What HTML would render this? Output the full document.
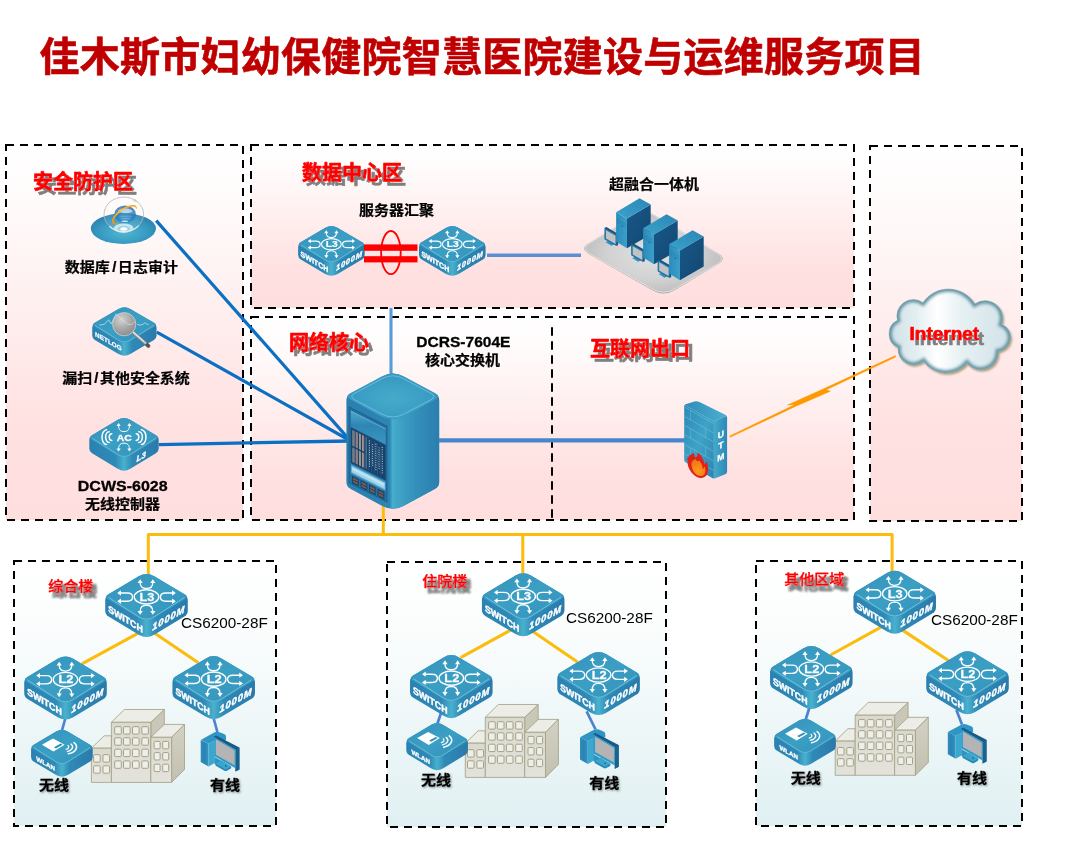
<!DOCTYPE html>
<html lang="zh-CN">
<head>
<meta charset="utf-8">
<title>佳木斯市妇幼保健院智慧医院建设与运维服务项目</title>
<style>
html,body{margin:0;padding:0;background:#fff;}
body{width:1078px;height:868px;overflow:hidden;font-family:"Liberation Sans", "Noto Sans CJK SC", sans-serif;}
svg{display:block;}
</style>
</head>
<body>
<svg width="1078" height="868" viewBox="0 0 1078 868">
<defs>
<linearGradient id="gPink" x1="0" y1="0" x2="0" y2="1">
  <stop offset="0" stop-color="#ffffff"/>
  <stop offset="0.15" stop-color="#fffbfb"/>
  <stop offset="0.5" stop-color="#ffecec"/>
  <stop offset="0.75" stop-color="#ffe1e1"/>
  <stop offset="1" stop-color="#ffdede"/>
</linearGradient>
<linearGradient id="gCyan" x1="0" y1="0" x2="0" y2="1">
  <stop offset="0" stop-color="#ffffff"/>
  <stop offset="0.25" stop-color="#fbfdfd"/>
  <stop offset="1" stop-color="#e0f0f2"/>
</linearGradient>
<filter id="ts" x="-10%" y="-30%" width="130%" height="180%">
  <feMorphology in="SourceAlpha" operator="dilate" radius="0.35"/>
  <feGaussianBlur stdDeviation="0.6"/>
  <feOffset dx="4.3" dy="4.4" result="o"/>
  <feFlood flood-color="#7f7f7f"/>
  <feComposite in2="o" operator="in"/>
  <feMerge><feMergeNode/><feMergeNode in="SourceGraphic"/></feMerge>
</filter>
<filter id="ts15" x="-10%" y="-30%" width="130%" height="180%">
  <feMorphology in="SourceAlpha" operator="dilate" radius="0.45 0.4"/>
  <feGaussianBlur stdDeviation="0.85 0.95"/>
  <feOffset dx="4.1" dy="6.0" result="o"/>
  <feFlood flood-color="#808080"/>
  <feComposite in2="o" operator="in" result="s"/>
  <feMerge><feMergeNode in="s"/><feMergeNode in="s"/><feMergeNode in="SourceGraphic"/></feMerge>
</filter>
<filter id="tsi" x="-10%" y="-30%" width="130%" height="190%">
  <feGaussianBlur in="SourceAlpha" stdDeviation="0.5"/>
  <feOffset dx="4.6" dy="5" result="o"/>
  <feFlood flood-color="#7f7f7f"/>
  <feComposite in2="o" operator="in"/>
  <feMerge><feMergeNode/><feMergeNode in="SourceGraphic"/></feMerge>
</filter>
<filter id="tsk" x="-20%" y="-30%" width="140%" height="180%">
  <feGaussianBlur in="SourceAlpha" stdDeviation="0.9"/>
  <feOffset dx="0.8" dy="1.4" result="o"/>
  <feFlood flood-color="#000" flood-opacity="0.45"/>
  <feComposite in2="o" operator="in"/>
  <feMerge><feMergeNode/><feMergeNode in="SourceGraphic"/></feMerge>
</filter>

<linearGradient id="gTop" x1="0" y1="0" x2="1" y2="1">
  <stop offset="0" stop-color="#3391bc"/><stop offset="0.5" stop-color="#3b9fc4"/><stop offset="1" stop-color="#3290bb"/>
</linearGradient>
<linearGradient id="gSide" x1="0" y1="0" x2="1" y2="0">
  <stop offset="0" stop-color="#2b82b2"/><stop offset="0.38" stop-color="#2f8ab7"/><stop offset="0.5" stop-color="#49b1ce"/><stop offset="0.62" stop-color="#2f8ab7"/><stop offset="1" stop-color="#2a7aaa"/>
</linearGradient>

<linearGradient id="gPcL" x1="0" y1="0" x2="1" y2="0">
  <stop offset="0" stop-color="#2d8dbd"/><stop offset="0.5" stop-color="#2a83b3"/><stop offset="1" stop-color="#3196c4"/>
</linearGradient>
<linearGradient id="gBf" x1="0" y1="0" x2="0" y2="1">
  <stop offset="0" stop-color="#d9d9ce"/><stop offset="1" stop-color="#e3e3dc"/>
</linearGradient>
<linearGradient id="gBs" x1="0" y1="0" x2="0" y2="1">
  <stop offset="0" stop-color="#d2d1c4"/><stop offset="1" stop-color="#c2c1b0"/>
</linearGradient>

<linearGradient id="gCoreR" x1="0" y1="0" x2="1" y2="0">
  <stop offset="0" stop-color="#43a9ca" stop-opacity="0"/><stop offset="0.06" stop-color="#47aecd"/><stop offset="0.14" stop-color="#41a6c8"/><stop offset="0.5" stop-color="#3390bb"/><stop offset="1" stop-color="#2a7dae"/>
</linearGradient>
<linearGradient id="gCoreL" x1="0" y1="0" x2="1" y2="0">
  <stop offset="0" stop-color="#2a7fb0"/><stop offset="0.8" stop-color="#2f8ab7"/><stop offset="1" stop-color="#45accb"/>
</linearGradient>
<radialGradient id="gCoreT" cx="0.5" cy="0.55" r="0.6">
  <stop offset="0" stop-color="#45abcb"/><stop offset="1" stop-color="#3595bf"/>
</radialGradient>
<linearGradient id="gBand" x1="0" y1="0" x2="0" y2="1">
  <stop offset="0" stop-color="#4fa9cc"/><stop offset="0.45" stop-color="#2f85b3"/><stop offset="1" stop-color="#3a97c0"/>
</linearGradient>

<linearGradient id="gUtmF" x1="0" y1="0" x2="1" y2="1">
  <stop offset="0" stop-color="#2d88b7"/><stop offset="0.5" stop-color="#3ea3c7"/><stop offset="1" stop-color="#2c84b3"/>
</linearGradient>
<linearGradient id="gUtmS" x1="0" y1="0" x2="1" y2="0">
  <stop offset="0" stop-color="#44aacb"/><stop offset="1" stop-color="#2e88b6"/>
</linearGradient>
<linearGradient id="gUtmT" x1="0" y1="0" x2="1" y2="0">
  <stop offset="0" stop-color="#2f8cba"/><stop offset="1" stop-color="#4ab0cf"/>
</linearGradient>
<radialGradient id="gFlame" cx="0.5" cy="0.7" r="0.6">
  <stop offset="0" stop-color="#ff9a1e"/><stop offset="1" stop-color="#f07a12"/>
</radialGradient>

<linearGradient id="gCloud" x1="0" y1="0" x2="1" y2="0">
  <stop offset="0" stop-color="#cfe1e7"/><stop offset="0.22" stop-color="#e3eef1"/><stop offset="0.4" stop-color="#ffffff"/><stop offset="0.6" stop-color="#e6f0f3"/><stop offset="1" stop-color="#d0e2e8"/>
</linearGradient>
<filter id="fCloudIn" x="-10%" y="-10%" width="120%" height="120%">
  <feGaussianBlur stdDeviation="1.6"/>
</filter>
<filter id="fCloudSh" x="-10%" y="-10%" width="120%" height="125%">
  <feGaussianBlur stdDeviation="0.8"/>
</filter>

<radialGradient id="gPlat" cx="0.5" cy="0.5" r="0.6">
  <stop offset="0" stop-color="#e2e2e2"/><stop offset="0.55" stop-color="#d2d2d2"/><stop offset="1" stop-color="#b6b6b6"/>
</radialGradient>
<linearGradient id="gSrvL" x1="0" y1="0" x2="1" y2="0">
  <stop offset="0" stop-color="#2b8bbb"/><stop offset="1" stop-color="#3aa0c9"/>
</linearGradient>
<linearGradient id="gSrvT" x1="0" y1="1" x2="1" y2="0">
  <stop offset="0" stop-color="#3aa2ca"/><stop offset="1" stop-color="#2b87b7"/>
</linearGradient>
<linearGradient id="gSrvR" x1="0" y1="0" x2="1" y2="1">
  <stop offset="0" stop-color="#19598a"/><stop offset="1" stop-color="#124670"/>
</linearGradient>

<radialGradient id="gDisc" cx="0.5" cy="0.62" r="0.6">
  <stop offset="0" stop-color="#4fb8d3"/><stop offset="0.55" stop-color="#3a9ec4"/><stop offset="1" stop-color="#2a80b1"/>
</radialGradient>
<radialGradient id="gGlobe" cx="0.5" cy="0.7" r="0.75">
  <stop offset="0" stop-color="#4a9fd0"/><stop offset="0.6" stop-color="#2a78b8"/><stop offset="1" stop-color="#2a64ad"/>
</radialGradient>
<linearGradient id="gSwoosh" x1="0" y1="1" x2="1" y2="0">
  <stop offset="0" stop-color="#f08a10"/><stop offset="0.5" stop-color="#ffc21e"/><stop offset="1" stop-color="#f4a018"/>
</linearGradient>

<radialGradient id="gLens" cx="0.38" cy="0.3" r="0.8">
  <stop offset="0" stop-color="#d2d2d2"/><stop offset="0.5" stop-color="#a9a9a9"/><stop offset="1" stop-color="#858585"/>
</radialGradient>
<linearGradient id="gHandle" x1="0" y1="0" x2="1" y2="1">
  <stop offset="0" stop-color="#e0e0e0"/><stop offset="0.35" stop-color="#8a8a8a"/><stop offset="1" stop-color="#5a5a5a"/>
</linearGradient>
</defs>
<rect width="1078" height="868" fill="#ffffff"/>
<g style="will-change:transform">
<rect x="6" y="145" width="237" height="375" fill="url(#gPink)" stroke="#000" stroke-width="2" stroke-dasharray="8 6"/>
<rect x="251" y="145" width="603" height="163" fill="url(#gPink)" stroke="#000" stroke-width="2" stroke-dasharray="8 6"/>
<rect x="251" y="317" width="603" height="203" fill="url(#gPink)" stroke="#000" stroke-width="2" stroke-dasharray="8 6"/>
<line x1="552" y1="327.3" x2="552" y2="518" stroke="#000" stroke-width="2" stroke-dasharray="8.4 5.6"/>
<rect x="870" y="146" width="152" height="375" fill="url(#gPink)" stroke="#000" stroke-width="2" stroke-dasharray="8 6"/>
<rect x="14" y="561" width="262" height="265" fill="url(#gCyan)" stroke="#000" stroke-width="2" stroke-dasharray="8 6"/>
<rect x="387" y="562" width="279" height="265" fill="url(#gCyan)" stroke="#000" stroke-width="2" stroke-dasharray="8 6"/>
<rect x="756" y="561" width="266" height="265" fill="url(#gCyan)" stroke="#000" stroke-width="2" stroke-dasharray="8 6"/>
<line x1="156.2" y1="220.6" x2="348.4" y2="438.6" stroke="#0b70c3" stroke-width="3.2" stroke-linecap="butt"/>
<line x1="156.8" y1="332.1" x2="349" y2="440" stroke="#0b70c3" stroke-width="3.2" stroke-linecap="butt"/>
<line x1="158.9" y1="444.6" x2="349" y2="441" stroke="#0b70c3" stroke-width="3.3" stroke-linecap="butt"/>
<line x1="391" y1="308" x2="391" y2="376" stroke="#5b9bd5" stroke-width="3.1" stroke-linecap="butt"/>
<line x1="436" y1="440.3" x2="686" y2="440.3" stroke="#4a86cc" stroke-width="4.2" stroke-linecap="butt"/>
<line x1="487" y1="255.3" x2="581" y2="255.3" stroke="#5a8fd6" stroke-width="3.6" stroke-linecap="butt"/>
<path d="M383.3 504V534.4M148.3 578V534.4H892.1V576M522.8 534.4V578" fill="none" stroke="#fcbc0c" stroke-width="3" stroke-linejoin="round"/>
<g transform="translate(331.4 244.2) scale(1 1)" >
<path d="M-6.21 -16.31Q0 -19.95 6.21 -16.31L30.57 -2Q33.29 -0.4 33.29 2.75L33.29 10.65Q33.29 13.8 30.57 15.4L6.21 29.71Q0 33.35 -6.21 29.71L-30.57 15.4Q-33.29 13.8 -33.29 10.65L-33.29 2.75Q-33.29 -0.4 -30.57 -2Z" fill="url(#gSide)"/>
<path d="M-6.23 -16.34Q0 -19.95 6.23 -16.34L30.87 -2.03Q34.37 0 30.88 2.05L6.99 16.07Q0 20.17 -6.99 16.07L-30.88 2.05Q-34.37 0 -30.87 -2.03Z" fill="url(#gTop)"/>
<path d="M-30.2 0.7L-6.49 15.52Q0 19.58 6.49 15.52L30.2 0.7" fill="none" stroke="#8fd3e6" stroke-width="0.7" stroke-opacity="0.75" stroke-linecap="round"/>
<ellipse cx="0" cy="0" rx="9.9" ry="5.6" fill="none" stroke="#fff" stroke-width="1.1"/>
<path d="M-5.1 -11.6C-5.1 -8.2 -3.6 -6.6 0 -6.6C3.6 -6.6 5.1 -8.2 5.1 -11.6" fill="none" stroke="#fff" stroke-width="1.1" stroke-linecap="round" stroke-linejoin="round"/>
<path d="M-5.1 -14L-3 -11L-7.2 -11Z" fill="#fff"/>
<path d="M5.1 -14L7.2 -11L3 -11Z" fill="#fff"/>
<path d="M-5.1 11.6C-5.1 8.2 -3.6 6.6 0 6.6C3.6 6.6 5.1 8.2 5.1 11.6" fill="none" stroke="#fff" stroke-width="1.1" stroke-linecap="round" stroke-linejoin="round"/>
<path d="M-5.1 14L-7.2 11L-3 11Z" fill="#fff"/>
<path d="M5.1 14L3 11L7.2 11Z" fill="#fff"/>
<path d="M-21 -3.1H-15.5C-12.6 -3.1 -11.2 -1.6 -11.2 0.1C-11.2 1.9 -12.6 3.4 -15.5 3.4H-21" fill="none" stroke="#fff" stroke-width="1.1" stroke-linecap="round" stroke-linejoin="round"/>
<path d="M-23.6 -3.1L-20.6 -5.2L-20.6 -1Z" fill="#fff"/>
<path d="M-23.6 3.4L-20.6 1.3L-20.6 5.5Z" fill="#fff"/>
<path d="M21 -3.1H15.5C12.6 -3.1 11.2 -1.6 11.2 0.1C11.2 1.9 12.6 3.4 15.5 3.4H21" fill="none" stroke="#fff" stroke-width="1.1" stroke-linecap="round" stroke-linejoin="round"/>
<path d="M23.6 -3.1L20.6 -1L20.6 -5.2Z" fill="#fff"/>
<path d="M23.6 3.4L20.6 5.5L20.6 1.3Z" fill="#fff"/>
<text x="0" y="3.05" font-family='"Liberation Sans", sans-serif' font-size="8.6" font-weight="bold" fill="#fff" stroke="#fff" stroke-width="0.2" stroke-linejoin="round" text-anchor="middle" transform="translate(0.4 0) scale(1.2 1)">L3</text>
<text x="0" y="0" font-family='"Liberation Sans", sans-serif' font-size="7.6" font-weight="bold" fill="#fff" stroke="#fff" stroke-width="0.34" text-rendering="geometricPrecision" transform="matrix(0.93 0.56 0 1 -30.9 11.7)">SWITCH</text>
<text x="0" y="0" font-family='"Liberation Sans", sans-serif' font-size="7.6" font-weight="bold" font-style="italic" fill="#fff" stroke="#fff" stroke-width="0.34" text-rendering="geometricPrecision" transform="matrix(1 -0.558 0 1 4.6 26.6)" letter-spacing="0.7">1000M</text>
</g>
<g transform="translate(452.3 244.2) scale(1 1)" >
<path d="M-6.21 -16.31Q0 -19.95 6.21 -16.31L30.57 -2Q33.29 -0.4 33.29 2.75L33.29 10.65Q33.29 13.8 30.57 15.4L6.21 29.71Q0 33.35 -6.21 29.71L-30.57 15.4Q-33.29 13.8 -33.29 10.65L-33.29 2.75Q-33.29 -0.4 -30.57 -2Z" fill="url(#gSide)"/>
<path d="M-6.23 -16.34Q0 -19.95 6.23 -16.34L30.87 -2.03Q34.37 0 30.88 2.05L6.99 16.07Q0 20.17 -6.99 16.07L-30.88 2.05Q-34.37 0 -30.87 -2.03Z" fill="url(#gTop)"/>
<path d="M-30.2 0.7L-6.49 15.52Q0 19.58 6.49 15.52L30.2 0.7" fill="none" stroke="#8fd3e6" stroke-width="0.7" stroke-opacity="0.75" stroke-linecap="round"/>
<ellipse cx="0" cy="0" rx="9.9" ry="5.6" fill="none" stroke="#fff" stroke-width="1.1"/>
<path d="M-5.1 -11.6C-5.1 -8.2 -3.6 -6.6 0 -6.6C3.6 -6.6 5.1 -8.2 5.1 -11.6" fill="none" stroke="#fff" stroke-width="1.1" stroke-linecap="round" stroke-linejoin="round"/>
<path d="M-5.1 -14L-3 -11L-7.2 -11Z" fill="#fff"/>
<path d="M5.1 -14L7.2 -11L3 -11Z" fill="#fff"/>
<path d="M-5.1 11.6C-5.1 8.2 -3.6 6.6 0 6.6C3.6 6.6 5.1 8.2 5.1 11.6" fill="none" stroke="#fff" stroke-width="1.1" stroke-linecap="round" stroke-linejoin="round"/>
<path d="M-5.1 14L-7.2 11L-3 11Z" fill="#fff"/>
<path d="M5.1 14L3 11L7.2 11Z" fill="#fff"/>
<path d="M-21 -3.1H-15.5C-12.6 -3.1 -11.2 -1.6 -11.2 0.1C-11.2 1.9 -12.6 3.4 -15.5 3.4H-21" fill="none" stroke="#fff" stroke-width="1.1" stroke-linecap="round" stroke-linejoin="round"/>
<path d="M-23.6 -3.1L-20.6 -5.2L-20.6 -1Z" fill="#fff"/>
<path d="M-23.6 3.4L-20.6 1.3L-20.6 5.5Z" fill="#fff"/>
<path d="M21 -3.1H15.5C12.6 -3.1 11.2 -1.6 11.2 0.1C11.2 1.9 12.6 3.4 15.5 3.4H21" fill="none" stroke="#fff" stroke-width="1.1" stroke-linecap="round" stroke-linejoin="round"/>
<path d="M23.6 -3.1L20.6 -1L20.6 -5.2Z" fill="#fff"/>
<path d="M23.6 3.4L20.6 5.5L20.6 1.3Z" fill="#fff"/>
<text x="0" y="3.05" font-family='"Liberation Sans", sans-serif' font-size="8.6" font-weight="bold" fill="#fff" stroke="#fff" stroke-width="0.2" stroke-linejoin="round" text-anchor="middle" transform="translate(0.4 0) scale(1.2 1)">L3</text>
<text x="0" y="0" font-family='"Liberation Sans", sans-serif' font-size="7.6" font-weight="bold" fill="#fff" stroke="#fff" stroke-width="0.34" text-rendering="geometricPrecision" transform="matrix(0.93 0.56 0 1 -30.9 11.7)">SWITCH</text>
<text x="0" y="0" font-family='"Liberation Sans", sans-serif' font-size="7.6" font-weight="bold" font-style="italic" fill="#fff" stroke="#fff" stroke-width="0.34" text-rendering="geometricPrecision" transform="matrix(1 -0.558 0 1 4.6 26.6)" letter-spacing="0.7">1000M</text>
</g>
<rect x="364" y="244.4" width="53.5" height="6.4" fill="#ff0000"/>
<rect x="364" y="256.2" width="53.5" height="6.2" fill="#ff0000"/>
<ellipse cx="390.9" cy="252.6" rx="9.8" ry="21.6" fill="none" stroke="#ff0000" stroke-width="1.8"/>
<line x1="139.7" y1="632.3" x2="81.9" y2="663.9" stroke="#fcbc0c" stroke-width="3.1" stroke-linecap="butt"/>
<line x1="153.3" y1="632.3" x2="198.3" y2="662.7" stroke="#fcbc0c" stroke-width="3.1" stroke-linecap="butt"/>
<line x1="66" y1="716" x2="61.8" y2="731" stroke="#4d82d0" stroke-width="2.7" stroke-linecap="butt"/>
<line x1="213" y1="716" x2="217.4" y2="732" stroke="#4d82d0" stroke-width="2.7" stroke-linecap="butt"/>
<g transform="translate(146.5 596.93) scale(1.24 1.27)" >
<path d="M-6.21 -16.31Q0 -19.95 6.21 -16.31L30.57 -2Q33.29 -0.4 33.29 2.75L33.29 10.65Q33.29 13.8 30.57 15.4L6.21 29.71Q0 33.35 -6.21 29.71L-30.57 15.4Q-33.29 13.8 -33.29 10.65L-33.29 2.75Q-33.29 -0.4 -30.57 -2Z" fill="url(#gSide)"/>
<path d="M-6.23 -16.34Q0 -19.95 6.23 -16.34L30.87 -2.03Q34.37 0 30.88 2.05L6.99 16.07Q0 20.17 -6.99 16.07L-30.88 2.05Q-34.37 0 -30.87 -2.03Z" fill="url(#gTop)"/>
<path d="M-30.2 0.7L-6.49 15.52Q0 19.58 6.49 15.52L30.2 0.7" fill="none" stroke="#8fd3e6" stroke-width="0.7" stroke-opacity="0.75" stroke-linecap="round"/>
<ellipse cx="0" cy="0" rx="9.9" ry="5.6" fill="none" stroke="#fff" stroke-width="1.1"/>
<path d="M-5.1 -11.6C-5.1 -8.2 -3.6 -6.6 0 -6.6C3.6 -6.6 5.1 -8.2 5.1 -11.6" fill="none" stroke="#fff" stroke-width="1.1" stroke-linecap="round" stroke-linejoin="round"/>
<path d="M-5.1 -14L-3 -11L-7.2 -11Z" fill="#fff"/>
<path d="M5.1 -14L7.2 -11L3 -11Z" fill="#fff"/>
<path d="M-5.1 11.6C-5.1 8.2 -3.6 6.6 0 6.6C3.6 6.6 5.1 8.2 5.1 11.6" fill="none" stroke="#fff" stroke-width="1.1" stroke-linecap="round" stroke-linejoin="round"/>
<path d="M-5.1 14L-7.2 11L-3 11Z" fill="#fff"/>
<path d="M5.1 14L3 11L7.2 11Z" fill="#fff"/>
<path d="M-21 -3.1H-15.5C-12.6 -3.1 -11.2 -1.6 -11.2 0.1C-11.2 1.9 -12.6 3.4 -15.5 3.4H-21" fill="none" stroke="#fff" stroke-width="1.1" stroke-linecap="round" stroke-linejoin="round"/>
<path d="M-23.6 -3.1L-20.6 -5.2L-20.6 -1Z" fill="#fff"/>
<path d="M-23.6 3.4L-20.6 1.3L-20.6 5.5Z" fill="#fff"/>
<path d="M21 -3.1H15.5C12.6 -3.1 11.2 -1.6 11.2 0.1C11.2 1.9 12.6 3.4 15.5 3.4H21" fill="none" stroke="#fff" stroke-width="1.1" stroke-linecap="round" stroke-linejoin="round"/>
<path d="M23.6 -3.1L20.6 -1L20.6 -5.2Z" fill="#fff"/>
<path d="M23.6 3.4L20.6 5.5L20.6 1.3Z" fill="#fff"/>
<text x="0" y="3.05" font-family='"Liberation Sans", sans-serif' font-size="8.6" font-weight="bold" fill="#fff" stroke="#fff" stroke-width="0.2" stroke-linejoin="round" text-anchor="middle" transform="translate(0.4 0) scale(1.2 1)">L3</text>
<text x="0" y="0" font-family='"Liberation Sans", sans-serif' font-size="7.6" font-weight="bold" fill="#fff" stroke="#fff" stroke-width="0.34" text-rendering="geometricPrecision" transform="matrix(0.93 0.56 0 1 -30.9 11.7)">SWITCH</text>
<text x="0" y="0" font-family='"Liberation Sans", sans-serif' font-size="7.6" font-weight="bold" font-style="italic" fill="#fff" stroke="#fff" stroke-width="0.34" text-rendering="geometricPrecision" transform="matrix(1 -0.558 0 1 4.6 26.6)" letter-spacing="0.7">1000M</text>
</g>
<g transform="translate(65.5 679.53) scale(1.24 1.27)" >
<path d="M-6.21 -16.31Q0 -19.95 6.21 -16.31L30.57 -2Q33.29 -0.4 33.29 2.75L33.29 10.65Q33.29 13.8 30.57 15.4L6.21 29.71Q0 33.35 -6.21 29.71L-30.57 15.4Q-33.29 13.8 -33.29 10.65L-33.29 2.75Q-33.29 -0.4 -30.57 -2Z" fill="url(#gSide)"/>
<path d="M-6.23 -16.34Q0 -19.95 6.23 -16.34L30.87 -2.03Q34.37 0 30.88 2.05L6.99 16.07Q0 20.17 -6.99 16.07L-30.88 2.05Q-34.37 0 -30.87 -2.03Z" fill="url(#gTop)"/>
<path d="M-30.2 0.7L-6.49 15.52Q0 19.58 6.49 15.52L30.2 0.7" fill="none" stroke="#8fd3e6" stroke-width="0.7" stroke-opacity="0.75" stroke-linecap="round"/>
<ellipse cx="0" cy="0" rx="9.9" ry="5.6" fill="none" stroke="#fff" stroke-width="1.1"/>
<path d="M-5.1 -11.6C-5.1 -8.2 -3.6 -6.6 0 -6.6C3.6 -6.6 5.1 -8.2 5.1 -11.6" fill="none" stroke="#fff" stroke-width="1.1" stroke-linecap="round" stroke-linejoin="round"/>
<path d="M-5.1 -14L-3 -11L-7.2 -11Z" fill="#fff"/>
<path d="M5.1 -14L7.2 -11L3 -11Z" fill="#fff"/>
<path d="M-5.1 11.6C-5.1 8.2 -3.6 6.6 0 6.6C3.6 6.6 5.1 8.2 5.1 11.6" fill="none" stroke="#fff" stroke-width="1.1" stroke-linecap="round" stroke-linejoin="round"/>
<path d="M-5.1 14L-7.2 11L-3 11Z" fill="#fff"/>
<path d="M5.1 14L3 11L7.2 11Z" fill="#fff"/>
<path d="M-21 -3.1H-15.5C-12.6 -3.1 -11.2 -1.6 -11.2 0.1C-11.2 1.9 -12.6 3.4 -15.5 3.4H-21" fill="none" stroke="#fff" stroke-width="1.1" stroke-linecap="round" stroke-linejoin="round"/>
<path d="M-23.6 -3.1L-20.6 -5.2L-20.6 -1Z" fill="#fff"/>
<path d="M-23.6 3.4L-20.6 1.3L-20.6 5.5Z" fill="#fff"/>
<path d="M21 -3.1H15.5C12.6 -3.1 11.2 -1.6 11.2 0.1C11.2 1.9 12.6 3.4 15.5 3.4H21" fill="none" stroke="#fff" stroke-width="1.1" stroke-linecap="round" stroke-linejoin="round"/>
<path d="M23.6 -3.1L20.6 -1L20.6 -5.2Z" fill="#fff"/>
<path d="M23.6 3.4L20.6 5.5L20.6 1.3Z" fill="#fff"/>
<text x="0" y="3.05" font-family='"Liberation Sans", sans-serif' font-size="8.6" font-weight="bold" fill="#fff" stroke="#fff" stroke-width="0.2" stroke-linejoin="round" text-anchor="middle" transform="translate(0.4 0) scale(1.2 1)">L2</text>
<text x="0" y="0" font-family='"Liberation Sans", sans-serif' font-size="7.6" font-weight="bold" fill="#fff" stroke="#fff" stroke-width="0.34" text-rendering="geometricPrecision" transform="matrix(0.93 0.56 0 1 -30.9 11.7)">SWITCH</text>
<text x="0" y="0" font-family='"Liberation Sans", sans-serif' font-size="7.6" font-weight="bold" font-style="italic" fill="#fff" stroke="#fff" stroke-width="0.34" text-rendering="geometricPrecision" transform="matrix(1 -0.558 0 1 4.6 26.6)" letter-spacing="0.7">1000M</text>
</g>
<g transform="translate(213.7 679.13) scale(1.24 1.27)" >
<path d="M-6.21 -16.31Q0 -19.95 6.21 -16.31L30.57 -2Q33.29 -0.4 33.29 2.75L33.29 10.65Q33.29 13.8 30.57 15.4L6.21 29.71Q0 33.35 -6.21 29.71L-30.57 15.4Q-33.29 13.8 -33.29 10.65L-33.29 2.75Q-33.29 -0.4 -30.57 -2Z" fill="url(#gSide)"/>
<path d="M-6.23 -16.34Q0 -19.95 6.23 -16.34L30.87 -2.03Q34.37 0 30.88 2.05L6.99 16.07Q0 20.17 -6.99 16.07L-30.88 2.05Q-34.37 0 -30.87 -2.03Z" fill="url(#gTop)"/>
<path d="M-30.2 0.7L-6.49 15.52Q0 19.58 6.49 15.52L30.2 0.7" fill="none" stroke="#8fd3e6" stroke-width="0.7" stroke-opacity="0.75" stroke-linecap="round"/>
<ellipse cx="0" cy="0" rx="9.9" ry="5.6" fill="none" stroke="#fff" stroke-width="1.1"/>
<path d="M-5.1 -11.6C-5.1 -8.2 -3.6 -6.6 0 -6.6C3.6 -6.6 5.1 -8.2 5.1 -11.6" fill="none" stroke="#fff" stroke-width="1.1" stroke-linecap="round" stroke-linejoin="round"/>
<path d="M-5.1 -14L-3 -11L-7.2 -11Z" fill="#fff"/>
<path d="M5.1 -14L7.2 -11L3 -11Z" fill="#fff"/>
<path d="M-5.1 11.6C-5.1 8.2 -3.6 6.6 0 6.6C3.6 6.6 5.1 8.2 5.1 11.6" fill="none" stroke="#fff" stroke-width="1.1" stroke-linecap="round" stroke-linejoin="round"/>
<path d="M-5.1 14L-7.2 11L-3 11Z" fill="#fff"/>
<path d="M5.1 14L3 11L7.2 11Z" fill="#fff"/>
<path d="M-21 -3.1H-15.5C-12.6 -3.1 -11.2 -1.6 -11.2 0.1C-11.2 1.9 -12.6 3.4 -15.5 3.4H-21" fill="none" stroke="#fff" stroke-width="1.1" stroke-linecap="round" stroke-linejoin="round"/>
<path d="M-23.6 -3.1L-20.6 -5.2L-20.6 -1Z" fill="#fff"/>
<path d="M-23.6 3.4L-20.6 1.3L-20.6 5.5Z" fill="#fff"/>
<path d="M21 -3.1H15.5C12.6 -3.1 11.2 -1.6 11.2 0.1C11.2 1.9 12.6 3.4 15.5 3.4H21" fill="none" stroke="#fff" stroke-width="1.1" stroke-linecap="round" stroke-linejoin="round"/>
<path d="M23.6 -3.1L20.6 -1L20.6 -5.2Z" fill="#fff"/>
<path d="M23.6 3.4L20.6 5.5L20.6 1.3Z" fill="#fff"/>
<text x="0" y="3.05" font-family='"Liberation Sans", sans-serif' font-size="8.6" font-weight="bold" fill="#fff" stroke="#fff" stroke-width="0.2" stroke-linejoin="round" text-anchor="middle" transform="translate(0.4 0) scale(1.2 1)">L2</text>
<text x="0" y="0" font-family='"Liberation Sans", sans-serif' font-size="7.6" font-weight="bold" fill="#fff" stroke="#fff" stroke-width="0.34" text-rendering="geometricPrecision" transform="matrix(0.93 0.56 0 1 -30.9 11.7)">SWITCH</text>
<text x="0" y="0" font-family='"Liberation Sans", sans-serif' font-size="7.6" font-weight="bold" font-style="italic" fill="#fff" stroke="#fff" stroke-width="0.34" text-rendering="geometricPrecision" transform="matrix(1 -0.558 0 1 4.6 26.6)" letter-spacing="0.7">1000M</text>
</g>
<g transform="translate(91.4 709.3) scale(1)" >
<path d="M59.4 13L72.9 0.2L72.9 40L59.4 40Z" fill="#c9c8b8" stroke="#a19d80" stroke-width="0.8" stroke-linejoin="round"/>
<path d="M20 13L59.4 13L72.9 0.2L33 0.2Z" fill="#edede7" stroke="#a19d80" stroke-width="0.8" stroke-linejoin="round"/>
<path d="M0 38.9L20 38.9L20 26.5L12.8 26.5Z" fill="#edede7" stroke="#a19d80" stroke-width="0.8" stroke-linejoin="round"/>
<path d="M59.4 28L80.2 28L93.1 15.1L72.9 15.1Z" fill="#edede7" stroke="#a19d80" stroke-width="0.8" stroke-linejoin="round"/>
<path d="M80.2 28L93.1 15.1L93.1 60.2L80.2 73.1Z" fill="url(#gBs)" stroke="#a19d80" stroke-width="0.8" stroke-linejoin="round"/>
<path d="M0 38.9L20 38.9L20 73.1L0 73.1Z" fill="url(#gBf)" stroke="#a19d80" stroke-width="0.8" stroke-linejoin="round"/>
<path d="M20 13L59.4 13L59.4 73.1L20 73.1Z" fill="url(#gBf)" stroke="#a19d80" stroke-width="0.8" stroke-linejoin="round"/>
<path d="M59.4 28L80.2 28L80.2 73.1L59.4 73.1Z" fill="url(#gBf)" stroke="#a19d80" stroke-width="0.8" stroke-linejoin="round"/>
<rect x="23.3" y="17.4" width="6.6" height="7.4" rx="1" fill="#efefe9" stroke="#a5a186" stroke-width="1"/>
<rect x="23.3" y="28.5" width="6.6" height="7.4" rx="1" fill="#efefe9" stroke="#a5a186" stroke-width="1"/>
<rect x="23.3" y="39.9" width="6.6" height="7.4" rx="1" fill="#efefe9" stroke="#a5a186" stroke-width="1"/>
<rect x="23.3" y="51.6" width="6.6" height="7.4" rx="1" fill="#efefe9" stroke="#a5a186" stroke-width="1"/>
<rect x="32.1" y="17.4" width="6.6" height="7.4" rx="1" fill="#efefe9" stroke="#a5a186" stroke-width="1"/>
<rect x="32.1" y="28.5" width="6.6" height="7.4" rx="1" fill="#efefe9" stroke="#a5a186" stroke-width="1"/>
<rect x="32.1" y="39.9" width="6.6" height="7.4" rx="1" fill="#efefe9" stroke="#a5a186" stroke-width="1"/>
<rect x="32.1" y="51.6" width="6.6" height="7.4" rx="1" fill="#efefe9" stroke="#a5a186" stroke-width="1"/>
<rect x="41.1" y="17.4" width="6.6" height="7.4" rx="1" fill="#efefe9" stroke="#a5a186" stroke-width="1"/>
<rect x="41.1" y="28.5" width="6.6" height="7.4" rx="1" fill="#efefe9" stroke="#a5a186" stroke-width="1"/>
<rect x="41.1" y="39.9" width="6.6" height="7.4" rx="1" fill="#efefe9" stroke="#a5a186" stroke-width="1"/>
<rect x="41.1" y="51.6" width="6.6" height="7.4" rx="1" fill="#efefe9" stroke="#a5a186" stroke-width="1"/>
<rect x="50.4" y="17.4" width="6.6" height="7.4" rx="1" fill="#efefe9" stroke="#a5a186" stroke-width="1"/>
<rect x="50.4" y="28.5" width="6.6" height="7.4" rx="1" fill="#efefe9" stroke="#a5a186" stroke-width="1"/>
<rect x="50.4" y="39.9" width="6.6" height="7.4" rx="1" fill="#efefe9" stroke="#a5a186" stroke-width="1"/>
<rect x="50.4" y="51.6" width="6.6" height="7.4" rx="1" fill="#efefe9" stroke="#a5a186" stroke-width="1"/>
<rect x="2.2" y="45.4" width="6.6" height="7.4" rx="1" fill="#efefe9" stroke="#a5a186" stroke-width="1"/>
<rect x="2.2" y="56.5" width="6.6" height="7.4" rx="1" fill="#efefe9" stroke="#a5a186" stroke-width="1"/>
<rect x="11.6" y="45.4" width="6.6" height="7.4" rx="1" fill="#efefe9" stroke="#a5a186" stroke-width="1"/>
<rect x="11.6" y="56.5" width="6.6" height="7.4" rx="1" fill="#efefe9" stroke="#a5a186" stroke-width="1"/>
<rect x="62.7" y="32.1" width="6" height="7.4" rx="1" fill="#efefe9" stroke="#a5a186" stroke-width="1"/>
<rect x="62.7" y="43.3" width="6" height="7.4" rx="1" fill="#efefe9" stroke="#a5a186" stroke-width="1"/>
<rect x="62.7" y="54.9" width="6" height="7.4" rx="1" fill="#efefe9" stroke="#a5a186" stroke-width="1"/>
<rect x="71.3" y="32.1" width="6" height="7.4" rx="1" fill="#efefe9" stroke="#a5a186" stroke-width="1"/>
<rect x="71.3" y="43.3" width="6" height="7.4" rx="1" fill="#efefe9" stroke="#a5a186" stroke-width="1"/>
<rect x="71.3" y="54.9" width="6" height="7.4" rx="1" fill="#efefe9" stroke="#a5a186" stroke-width="1"/>
</g>
<g transform="translate(61.9 747) scale(1)" >
<path d="M-5.75 -15.5Q0 -18.97 5.75 -15.5L28.32 -1.89Q30.84 -0.37 30.84 2.57L30.84 10.03Q30.84 12.97 28.32 14.49L5.75 28.1Q0 31.57 -5.75 28.1L-28.32 14.49Q-30.84 12.97 -30.84 10.03L-30.84 2.57Q-30.84 -0.37 -28.32 -1.89Z" fill="url(#gSide)"/>
<path d="M-5.77 -15.53Q0 -18.97 5.77 -15.53L28.59 -1.93Q31.84 0 28.6 1.95L6.48 15.28Q0 19.18 -6.48 15.28L-28.6 1.95Q-31.84 0 -28.59 -1.93Z" fill="url(#gTop)"/>
<path d="M-27.8 0.7L-6 14.73Q0 18.59 6 14.73L27.8 0.7" fill="none" stroke="#8fd3e6" stroke-width="0.7" stroke-opacity="0.75" stroke-linecap="round"/>
<path d="M-20 -2.2L-8.9 -8.4L2.7 -2.2L-8.4 4.6Z" fill="#fff"/>
<path d="M-7.9 0.2L-1.2 -3.4L0.7 -2.3L-6 1.4Z" fill="#2f8fba"/>
<path d="M6.07 -1.49A3.9 2.42 0 0 1 4.21 2.3" fill="none" stroke="#fff" stroke-width="1.2" stroke-linecap="round"/>
<path d="M9.07 -2.94A7.7 4.77 0 0 1 5.38 4.54" fill="none" stroke="#fff" stroke-width="1.35" stroke-linecap="round"/>
<path d="M12.14 -4.43A11.6 7.19 0 0 1 6.58 6.84" fill="none" stroke="#fff" stroke-width="1.5" stroke-linecap="round"/>
<text x="0" y="0" font-family='"Liberation Sans", sans-serif' font-size="6.2" font-weight="bold" fill="#fff" stroke="#fff" stroke-width="0.3" text-rendering="geometricPrecision" transform="matrix(1 0.573 0 1 -25.6 13.4)">WLAN</text>
</g>
<g transform="translate(200.3 731) scale(1)" >
<path d="M1.29 9.35Q0.4 8.9 1.28 8.42L13.87 1.54Q16.5 0.1 19.28 1.22L23.84 3.05Q25.7 3.8 25.7 5.8L25.7 9L14.2 9.8L8.2 12.8Z" fill="#2f95c4"/>
<path d="M0.4 8.9L8.2 12.8L8.2 35.6L0.4 31Z" fill="url(#gPcL)"/>
<path d="M8.2 12.8L14.4 9.6L14.4 32L8.2 35.6Z" fill="#3ba7ce"/>
<path d="M14.2 26L24 31.6L24 35L14.2 33Z" fill="#2f93c2"/>
<path d="M15.1 33.1Q15.1 32.6 15.55 32.37L20.55 29.83Q21 29.6 21.43 29.85L30.13 34.9Q31 35.4 31 36.4L31 36.4Q31 37.4 30.12 37.87L26.72 39.69Q25.4 40.4 24.09 39.66L15.54 34.85Q15.1 34.6 15.1 34.1Z" fill="#2a88b8"/>
<path d="M15.1 32.6L21 29.6L31 35.4L25.4 38.4Z" fill="#3aa5cb"/>
<circle cx="25.6" cy="34.9" r="0.8" fill="#1a5d86"/>
<path d="M14 5.3L15.8 4.5L39.1 16.6L39.1 38.4L35.2 40.4L35.2 18.8L14 6.4Z" fill="#1a5a86"/>
<path d="M35.2 18.8L39.1 16.8L39.1 38.4L35.2 40.4Z" fill="#1c628f"/>
<path d="M14 6.1L35.2 18.8L35.2 37.2L14 25.3Z" fill="#2e9bcb"/>
<path d="M15.5 8.3L34.3 19.6L34.3 34.2L15.5 23.7Z" fill="#b4b4b5"/>
</g>
<line x1="511.5" y1="629.7" x2="460.6" y2="657.6" stroke="#fcbc0c" stroke-width="3.1" stroke-linecap="butt"/>
<line x1="532.2" y1="631" x2="577.5" y2="662" stroke="#fcbc0c" stroke-width="3.1" stroke-linecap="butt"/>
<line x1="441" y1="713" x2="437.3" y2="724" stroke="#4d82d0" stroke-width="2.7" stroke-linecap="butt"/>
<line x1="586.6" y1="711.4" x2="595.6" y2="729.5" stroke="#4d82d0" stroke-width="2.7" stroke-linecap="butt"/>
<g transform="translate(523.2 596.33) scale(1.24 1.27)" >
<path d="M-6.21 -16.31Q0 -19.95 6.21 -16.31L30.57 -2Q33.29 -0.4 33.29 2.75L33.29 10.65Q33.29 13.8 30.57 15.4L6.21 29.71Q0 33.35 -6.21 29.71L-30.57 15.4Q-33.29 13.8 -33.29 10.65L-33.29 2.75Q-33.29 -0.4 -30.57 -2Z" fill="url(#gSide)"/>
<path d="M-6.23 -16.34Q0 -19.95 6.23 -16.34L30.87 -2.03Q34.37 0 30.88 2.05L6.99 16.07Q0 20.17 -6.99 16.07L-30.88 2.05Q-34.37 0 -30.87 -2.03Z" fill="url(#gTop)"/>
<path d="M-30.2 0.7L-6.49 15.52Q0 19.58 6.49 15.52L30.2 0.7" fill="none" stroke="#8fd3e6" stroke-width="0.7" stroke-opacity="0.75" stroke-linecap="round"/>
<ellipse cx="0" cy="0" rx="9.9" ry="5.6" fill="none" stroke="#fff" stroke-width="1.1"/>
<path d="M-5.1 -11.6C-5.1 -8.2 -3.6 -6.6 0 -6.6C3.6 -6.6 5.1 -8.2 5.1 -11.6" fill="none" stroke="#fff" stroke-width="1.1" stroke-linecap="round" stroke-linejoin="round"/>
<path d="M-5.1 -14L-3 -11L-7.2 -11Z" fill="#fff"/>
<path d="M5.1 -14L7.2 -11L3 -11Z" fill="#fff"/>
<path d="M-5.1 11.6C-5.1 8.2 -3.6 6.6 0 6.6C3.6 6.6 5.1 8.2 5.1 11.6" fill="none" stroke="#fff" stroke-width="1.1" stroke-linecap="round" stroke-linejoin="round"/>
<path d="M-5.1 14L-7.2 11L-3 11Z" fill="#fff"/>
<path d="M5.1 14L3 11L7.2 11Z" fill="#fff"/>
<path d="M-21 -3.1H-15.5C-12.6 -3.1 -11.2 -1.6 -11.2 0.1C-11.2 1.9 -12.6 3.4 -15.5 3.4H-21" fill="none" stroke="#fff" stroke-width="1.1" stroke-linecap="round" stroke-linejoin="round"/>
<path d="M-23.6 -3.1L-20.6 -5.2L-20.6 -1Z" fill="#fff"/>
<path d="M-23.6 3.4L-20.6 1.3L-20.6 5.5Z" fill="#fff"/>
<path d="M21 -3.1H15.5C12.6 -3.1 11.2 -1.6 11.2 0.1C11.2 1.9 12.6 3.4 15.5 3.4H21" fill="none" stroke="#fff" stroke-width="1.1" stroke-linecap="round" stroke-linejoin="round"/>
<path d="M23.6 -3.1L20.6 -1L20.6 -5.2Z" fill="#fff"/>
<path d="M23.6 3.4L20.6 5.5L20.6 1.3Z" fill="#fff"/>
<text x="0" y="3.05" font-family='"Liberation Sans", sans-serif' font-size="8.6" font-weight="bold" fill="#fff" stroke="#fff" stroke-width="0.2" stroke-linejoin="round" text-anchor="middle" transform="translate(0.4 0) scale(1.2 1)">L3</text>
<text x="0" y="0" font-family='"Liberation Sans", sans-serif' font-size="7.6" font-weight="bold" fill="#fff" stroke="#fff" stroke-width="0.34" text-rendering="geometricPrecision" transform="matrix(0.93 0.56 0 1 -30.9 11.7)">SWITCH</text>
<text x="0" y="0" font-family='"Liberation Sans", sans-serif' font-size="7.6" font-weight="bold" font-style="italic" fill="#fff" stroke="#fff" stroke-width="0.34" text-rendering="geometricPrecision" transform="matrix(1 -0.558 0 1 4.6 26.6)" letter-spacing="0.7">1000M</text>
</g>
<g transform="translate(451.3 678.13) scale(1.24 1.27)" >
<path d="M-6.21 -16.31Q0 -19.95 6.21 -16.31L30.57 -2Q33.29 -0.4 33.29 2.75L33.29 10.65Q33.29 13.8 30.57 15.4L6.21 29.71Q0 33.35 -6.21 29.71L-30.57 15.4Q-33.29 13.8 -33.29 10.65L-33.29 2.75Q-33.29 -0.4 -30.57 -2Z" fill="url(#gSide)"/>
<path d="M-6.23 -16.34Q0 -19.95 6.23 -16.34L30.87 -2.03Q34.37 0 30.88 2.05L6.99 16.07Q0 20.17 -6.99 16.07L-30.88 2.05Q-34.37 0 -30.87 -2.03Z" fill="url(#gTop)"/>
<path d="M-30.2 0.7L-6.49 15.52Q0 19.58 6.49 15.52L30.2 0.7" fill="none" stroke="#8fd3e6" stroke-width="0.7" stroke-opacity="0.75" stroke-linecap="round"/>
<ellipse cx="0" cy="0" rx="9.9" ry="5.6" fill="none" stroke="#fff" stroke-width="1.1"/>
<path d="M-5.1 -11.6C-5.1 -8.2 -3.6 -6.6 0 -6.6C3.6 -6.6 5.1 -8.2 5.1 -11.6" fill="none" stroke="#fff" stroke-width="1.1" stroke-linecap="round" stroke-linejoin="round"/>
<path d="M-5.1 -14L-3 -11L-7.2 -11Z" fill="#fff"/>
<path d="M5.1 -14L7.2 -11L3 -11Z" fill="#fff"/>
<path d="M-5.1 11.6C-5.1 8.2 -3.6 6.6 0 6.6C3.6 6.6 5.1 8.2 5.1 11.6" fill="none" stroke="#fff" stroke-width="1.1" stroke-linecap="round" stroke-linejoin="round"/>
<path d="M-5.1 14L-7.2 11L-3 11Z" fill="#fff"/>
<path d="M5.1 14L3 11L7.2 11Z" fill="#fff"/>
<path d="M-21 -3.1H-15.5C-12.6 -3.1 -11.2 -1.6 -11.2 0.1C-11.2 1.9 -12.6 3.4 -15.5 3.4H-21" fill="none" stroke="#fff" stroke-width="1.1" stroke-linecap="round" stroke-linejoin="round"/>
<path d="M-23.6 -3.1L-20.6 -5.2L-20.6 -1Z" fill="#fff"/>
<path d="M-23.6 3.4L-20.6 1.3L-20.6 5.5Z" fill="#fff"/>
<path d="M21 -3.1H15.5C12.6 -3.1 11.2 -1.6 11.2 0.1C11.2 1.9 12.6 3.4 15.5 3.4H21" fill="none" stroke="#fff" stroke-width="1.1" stroke-linecap="round" stroke-linejoin="round"/>
<path d="M23.6 -3.1L20.6 -1L20.6 -5.2Z" fill="#fff"/>
<path d="M23.6 3.4L20.6 5.5L20.6 1.3Z" fill="#fff"/>
<text x="0" y="3.05" font-family='"Liberation Sans", sans-serif' font-size="8.6" font-weight="bold" fill="#fff" stroke="#fff" stroke-width="0.2" stroke-linejoin="round" text-anchor="middle" transform="translate(0.4 0) scale(1.2 1)">L2</text>
<text x="0" y="0" font-family='"Liberation Sans", sans-serif' font-size="7.6" font-weight="bold" fill="#fff" stroke="#fff" stroke-width="0.34" text-rendering="geometricPrecision" transform="matrix(0.93 0.56 0 1 -30.9 11.7)">SWITCH</text>
<text x="0" y="0" font-family='"Liberation Sans", sans-serif' font-size="7.6" font-weight="bold" font-style="italic" fill="#fff" stroke="#fff" stroke-width="0.34" text-rendering="geometricPrecision" transform="matrix(1 -0.558 0 1 4.6 26.6)" letter-spacing="0.7">1000M</text>
</g>
<g transform="translate(598.6 675.03) scale(1.24 1.27)" >
<path d="M-6.21 -16.31Q0 -19.95 6.21 -16.31L30.57 -2Q33.29 -0.4 33.29 2.75L33.29 10.65Q33.29 13.8 30.57 15.4L6.21 29.71Q0 33.35 -6.21 29.71L-30.57 15.4Q-33.29 13.8 -33.29 10.65L-33.29 2.75Q-33.29 -0.4 -30.57 -2Z" fill="url(#gSide)"/>
<path d="M-6.23 -16.34Q0 -19.95 6.23 -16.34L30.87 -2.03Q34.37 0 30.88 2.05L6.99 16.07Q0 20.17 -6.99 16.07L-30.88 2.05Q-34.37 0 -30.87 -2.03Z" fill="url(#gTop)"/>
<path d="M-30.2 0.7L-6.49 15.52Q0 19.58 6.49 15.52L30.2 0.7" fill="none" stroke="#8fd3e6" stroke-width="0.7" stroke-opacity="0.75" stroke-linecap="round"/>
<ellipse cx="0" cy="0" rx="9.9" ry="5.6" fill="none" stroke="#fff" stroke-width="1.1"/>
<path d="M-5.1 -11.6C-5.1 -8.2 -3.6 -6.6 0 -6.6C3.6 -6.6 5.1 -8.2 5.1 -11.6" fill="none" stroke="#fff" stroke-width="1.1" stroke-linecap="round" stroke-linejoin="round"/>
<path d="M-5.1 -14L-3 -11L-7.2 -11Z" fill="#fff"/>
<path d="M5.1 -14L7.2 -11L3 -11Z" fill="#fff"/>
<path d="M-5.1 11.6C-5.1 8.2 -3.6 6.6 0 6.6C3.6 6.6 5.1 8.2 5.1 11.6" fill="none" stroke="#fff" stroke-width="1.1" stroke-linecap="round" stroke-linejoin="round"/>
<path d="M-5.1 14L-7.2 11L-3 11Z" fill="#fff"/>
<path d="M5.1 14L3 11L7.2 11Z" fill="#fff"/>
<path d="M-21 -3.1H-15.5C-12.6 -3.1 -11.2 -1.6 -11.2 0.1C-11.2 1.9 -12.6 3.4 -15.5 3.4H-21" fill="none" stroke="#fff" stroke-width="1.1" stroke-linecap="round" stroke-linejoin="round"/>
<path d="M-23.6 -3.1L-20.6 -5.2L-20.6 -1Z" fill="#fff"/>
<path d="M-23.6 3.4L-20.6 1.3L-20.6 5.5Z" fill="#fff"/>
<path d="M21 -3.1H15.5C12.6 -3.1 11.2 -1.6 11.2 0.1C11.2 1.9 12.6 3.4 15.5 3.4H21" fill="none" stroke="#fff" stroke-width="1.1" stroke-linecap="round" stroke-linejoin="round"/>
<path d="M23.6 -3.1L20.6 -1L20.6 -5.2Z" fill="#fff"/>
<path d="M23.6 3.4L20.6 5.5L20.6 1.3Z" fill="#fff"/>
<text x="0" y="3.05" font-family='"Liberation Sans", sans-serif' font-size="8.6" font-weight="bold" fill="#fff" stroke="#fff" stroke-width="0.2" stroke-linejoin="round" text-anchor="middle" transform="translate(0.4 0) scale(1.2 1)">L2</text>
<text x="0" y="0" font-family='"Liberation Sans", sans-serif' font-size="7.6" font-weight="bold" fill="#fff" stroke="#fff" stroke-width="0.34" text-rendering="geometricPrecision" transform="matrix(0.93 0.56 0 1 -30.9 11.7)">SWITCH</text>
<text x="0" y="0" font-family='"Liberation Sans", sans-serif' font-size="7.6" font-weight="bold" font-style="italic" fill="#fff" stroke="#fff" stroke-width="0.34" text-rendering="geometricPrecision" transform="matrix(1 -0.558 0 1 4.6 26.6)" letter-spacing="0.7">1000M</text>
</g>
<g transform="translate(465.3 704.3) scale(1)" >
<path d="M59.4 13L72.9 0.2L72.9 40L59.4 40Z" fill="#c9c8b8" stroke="#a19d80" stroke-width="0.8" stroke-linejoin="round"/>
<path d="M20 13L59.4 13L72.9 0.2L33 0.2Z" fill="#edede7" stroke="#a19d80" stroke-width="0.8" stroke-linejoin="round"/>
<path d="M0 38.9L20 38.9L20 26.5L12.8 26.5Z" fill="#edede7" stroke="#a19d80" stroke-width="0.8" stroke-linejoin="round"/>
<path d="M59.4 28L80.2 28L93.1 15.1L72.9 15.1Z" fill="#edede7" stroke="#a19d80" stroke-width="0.8" stroke-linejoin="round"/>
<path d="M80.2 28L93.1 15.1L93.1 60.2L80.2 73.1Z" fill="url(#gBs)" stroke="#a19d80" stroke-width="0.8" stroke-linejoin="round"/>
<path d="M0 38.9L20 38.9L20 73.1L0 73.1Z" fill="url(#gBf)" stroke="#a19d80" stroke-width="0.8" stroke-linejoin="round"/>
<path d="M20 13L59.4 13L59.4 73.1L20 73.1Z" fill="url(#gBf)" stroke="#a19d80" stroke-width="0.8" stroke-linejoin="round"/>
<path d="M59.4 28L80.2 28L80.2 73.1L59.4 73.1Z" fill="url(#gBf)" stroke="#a19d80" stroke-width="0.8" stroke-linejoin="round"/>
<rect x="23.3" y="17.4" width="6.6" height="7.4" rx="1" fill="#efefe9" stroke="#a5a186" stroke-width="1"/>
<rect x="23.3" y="28.5" width="6.6" height="7.4" rx="1" fill="#efefe9" stroke="#a5a186" stroke-width="1"/>
<rect x="23.3" y="39.9" width="6.6" height="7.4" rx="1" fill="#efefe9" stroke="#a5a186" stroke-width="1"/>
<rect x="23.3" y="51.6" width="6.6" height="7.4" rx="1" fill="#efefe9" stroke="#a5a186" stroke-width="1"/>
<rect x="32.1" y="17.4" width="6.6" height="7.4" rx="1" fill="#efefe9" stroke="#a5a186" stroke-width="1"/>
<rect x="32.1" y="28.5" width="6.6" height="7.4" rx="1" fill="#efefe9" stroke="#a5a186" stroke-width="1"/>
<rect x="32.1" y="39.9" width="6.6" height="7.4" rx="1" fill="#efefe9" stroke="#a5a186" stroke-width="1"/>
<rect x="32.1" y="51.6" width="6.6" height="7.4" rx="1" fill="#efefe9" stroke="#a5a186" stroke-width="1"/>
<rect x="41.1" y="17.4" width="6.6" height="7.4" rx="1" fill="#efefe9" stroke="#a5a186" stroke-width="1"/>
<rect x="41.1" y="28.5" width="6.6" height="7.4" rx="1" fill="#efefe9" stroke="#a5a186" stroke-width="1"/>
<rect x="41.1" y="39.9" width="6.6" height="7.4" rx="1" fill="#efefe9" stroke="#a5a186" stroke-width="1"/>
<rect x="41.1" y="51.6" width="6.6" height="7.4" rx="1" fill="#efefe9" stroke="#a5a186" stroke-width="1"/>
<rect x="50.4" y="17.4" width="6.6" height="7.4" rx="1" fill="#efefe9" stroke="#a5a186" stroke-width="1"/>
<rect x="50.4" y="28.5" width="6.6" height="7.4" rx="1" fill="#efefe9" stroke="#a5a186" stroke-width="1"/>
<rect x="50.4" y="39.9" width="6.6" height="7.4" rx="1" fill="#efefe9" stroke="#a5a186" stroke-width="1"/>
<rect x="50.4" y="51.6" width="6.6" height="7.4" rx="1" fill="#efefe9" stroke="#a5a186" stroke-width="1"/>
<rect x="2.2" y="45.4" width="6.6" height="7.4" rx="1" fill="#efefe9" stroke="#a5a186" stroke-width="1"/>
<rect x="2.2" y="56.5" width="6.6" height="7.4" rx="1" fill="#efefe9" stroke="#a5a186" stroke-width="1"/>
<rect x="11.6" y="45.4" width="6.6" height="7.4" rx="1" fill="#efefe9" stroke="#a5a186" stroke-width="1"/>
<rect x="11.6" y="56.5" width="6.6" height="7.4" rx="1" fill="#efefe9" stroke="#a5a186" stroke-width="1"/>
<rect x="62.7" y="32.1" width="6" height="7.4" rx="1" fill="#efefe9" stroke="#a5a186" stroke-width="1"/>
<rect x="62.7" y="43.3" width="6" height="7.4" rx="1" fill="#efefe9" stroke="#a5a186" stroke-width="1"/>
<rect x="62.7" y="54.9" width="6" height="7.4" rx="1" fill="#efefe9" stroke="#a5a186" stroke-width="1"/>
<rect x="71.3" y="32.1" width="6" height="7.4" rx="1" fill="#efefe9" stroke="#a5a186" stroke-width="1"/>
<rect x="71.3" y="43.3" width="6" height="7.4" rx="1" fill="#efefe9" stroke="#a5a186" stroke-width="1"/>
<rect x="71.3" y="54.9" width="6" height="7.4" rx="1" fill="#efefe9" stroke="#a5a186" stroke-width="1"/>
</g>
<g transform="translate(437.1 740.3) scale(1)" >
<path d="M-5.75 -15.5Q0 -18.97 5.75 -15.5L28.32 -1.89Q30.84 -0.37 30.84 2.57L30.84 10.03Q30.84 12.97 28.32 14.49L5.75 28.1Q0 31.57 -5.75 28.1L-28.32 14.49Q-30.84 12.97 -30.84 10.03L-30.84 2.57Q-30.84 -0.37 -28.32 -1.89Z" fill="url(#gSide)"/>
<path d="M-5.77 -15.53Q0 -18.97 5.77 -15.53L28.59 -1.93Q31.84 0 28.6 1.95L6.48 15.28Q0 19.18 -6.48 15.28L-28.6 1.95Q-31.84 0 -28.59 -1.93Z" fill="url(#gTop)"/>
<path d="M-27.8 0.7L-6 14.73Q0 18.59 6 14.73L27.8 0.7" fill="none" stroke="#8fd3e6" stroke-width="0.7" stroke-opacity="0.75" stroke-linecap="round"/>
<path d="M-20 -2.2L-8.9 -8.4L2.7 -2.2L-8.4 4.6Z" fill="#fff"/>
<path d="M-7.9 0.2L-1.2 -3.4L0.7 -2.3L-6 1.4Z" fill="#2f8fba"/>
<path d="M6.07 -1.49A3.9 2.42 0 0 1 4.21 2.3" fill="none" stroke="#fff" stroke-width="1.2" stroke-linecap="round"/>
<path d="M9.07 -2.94A7.7 4.77 0 0 1 5.38 4.54" fill="none" stroke="#fff" stroke-width="1.35" stroke-linecap="round"/>
<path d="M12.14 -4.43A11.6 7.19 0 0 1 6.58 6.84" fill="none" stroke="#fff" stroke-width="1.5" stroke-linecap="round"/>
<text x="0" y="0" font-family='"Liberation Sans", sans-serif' font-size="6.2" font-weight="bold" fill="#fff" stroke="#fff" stroke-width="0.3" text-rendering="geometricPrecision" transform="matrix(1 0.573 0 1 -25.6 13.4)">WLAN</text>
</g>
<g transform="translate(579.6 728.4) scale(1)" >
<path d="M1.29 9.35Q0.4 8.9 1.28 8.42L13.87 1.54Q16.5 0.1 19.28 1.22L23.84 3.05Q25.7 3.8 25.7 5.8L25.7 9L14.2 9.8L8.2 12.8Z" fill="#2f95c4"/>
<path d="M0.4 8.9L8.2 12.8L8.2 35.6L0.4 31Z" fill="url(#gPcL)"/>
<path d="M8.2 12.8L14.4 9.6L14.4 32L8.2 35.6Z" fill="#3ba7ce"/>
<path d="M14.2 26L24 31.6L24 35L14.2 33Z" fill="#2f93c2"/>
<path d="M15.1 33.1Q15.1 32.6 15.55 32.37L20.55 29.83Q21 29.6 21.43 29.85L30.13 34.9Q31 35.4 31 36.4L31 36.4Q31 37.4 30.12 37.87L26.72 39.69Q25.4 40.4 24.09 39.66L15.54 34.85Q15.1 34.6 15.1 34.1Z" fill="#2a88b8"/>
<path d="M15.1 32.6L21 29.6L31 35.4L25.4 38.4Z" fill="#3aa5cb"/>
<circle cx="25.6" cy="34.9" r="0.8" fill="#1a5d86"/>
<path d="M14 5.3L15.8 4.5L39.1 16.6L39.1 38.4L35.2 40.4L35.2 18.8L14 6.4Z" fill="#1a5a86"/>
<path d="M35.2 18.8L39.1 16.8L39.1 38.4L35.2 40.4Z" fill="#1c628f"/>
<path d="M14 6.1L35.2 18.8L35.2 37.2L14 25.3Z" fill="#2e9bcb"/>
<path d="M15.5 8.3L34.3 19.6L34.3 34.2L15.5 23.7Z" fill="#b4b4b5"/>
</g>
<line x1="881.9" y1="626.6" x2="830.5" y2="655" stroke="#fcbc0c" stroke-width="3.1" stroke-linecap="butt"/>
<line x1="901.8" y1="629.6" x2="948.7" y2="660.7" stroke="#fcbc0c" stroke-width="3.1" stroke-linecap="butt"/>
<line x1="810.2" y1="705" x2="805.6" y2="720" stroke="#4d82d0" stroke-width="2.7" stroke-linecap="butt"/>
<line x1="956.4" y1="710" x2="962" y2="724.5" stroke="#4d82d0" stroke-width="2.7" stroke-linecap="butt"/>
<g transform="translate(894.7 593.73) scale(1.24 1.27)" >
<path d="M-6.21 -16.31Q0 -19.95 6.21 -16.31L30.57 -2Q33.29 -0.4 33.29 2.75L33.29 10.65Q33.29 13.8 30.57 15.4L6.21 29.71Q0 33.35 -6.21 29.71L-30.57 15.4Q-33.29 13.8 -33.29 10.65L-33.29 2.75Q-33.29 -0.4 -30.57 -2Z" fill="url(#gSide)"/>
<path d="M-6.23 -16.34Q0 -19.95 6.23 -16.34L30.87 -2.03Q34.37 0 30.88 2.05L6.99 16.07Q0 20.17 -6.99 16.07L-30.88 2.05Q-34.37 0 -30.87 -2.03Z" fill="url(#gTop)"/>
<path d="M-30.2 0.7L-6.49 15.52Q0 19.58 6.49 15.52L30.2 0.7" fill="none" stroke="#8fd3e6" stroke-width="0.7" stroke-opacity="0.75" stroke-linecap="round"/>
<ellipse cx="0" cy="0" rx="9.9" ry="5.6" fill="none" stroke="#fff" stroke-width="1.1"/>
<path d="M-5.1 -11.6C-5.1 -8.2 -3.6 -6.6 0 -6.6C3.6 -6.6 5.1 -8.2 5.1 -11.6" fill="none" stroke="#fff" stroke-width="1.1" stroke-linecap="round" stroke-linejoin="round"/>
<path d="M-5.1 -14L-3 -11L-7.2 -11Z" fill="#fff"/>
<path d="M5.1 -14L7.2 -11L3 -11Z" fill="#fff"/>
<path d="M-5.1 11.6C-5.1 8.2 -3.6 6.6 0 6.6C3.6 6.6 5.1 8.2 5.1 11.6" fill="none" stroke="#fff" stroke-width="1.1" stroke-linecap="round" stroke-linejoin="round"/>
<path d="M-5.1 14L-7.2 11L-3 11Z" fill="#fff"/>
<path d="M5.1 14L3 11L7.2 11Z" fill="#fff"/>
<path d="M-21 -3.1H-15.5C-12.6 -3.1 -11.2 -1.6 -11.2 0.1C-11.2 1.9 -12.6 3.4 -15.5 3.4H-21" fill="none" stroke="#fff" stroke-width="1.1" stroke-linecap="round" stroke-linejoin="round"/>
<path d="M-23.6 -3.1L-20.6 -5.2L-20.6 -1Z" fill="#fff"/>
<path d="M-23.6 3.4L-20.6 1.3L-20.6 5.5Z" fill="#fff"/>
<path d="M21 -3.1H15.5C12.6 -3.1 11.2 -1.6 11.2 0.1C11.2 1.9 12.6 3.4 15.5 3.4H21" fill="none" stroke="#fff" stroke-width="1.1" stroke-linecap="round" stroke-linejoin="round"/>
<path d="M23.6 -3.1L20.6 -1L20.6 -5.2Z" fill="#fff"/>
<path d="M23.6 3.4L20.6 5.5L20.6 1.3Z" fill="#fff"/>
<text x="0" y="3.05" font-family='"Liberation Sans", sans-serif' font-size="8.6" font-weight="bold" fill="#fff" stroke="#fff" stroke-width="0.2" stroke-linejoin="round" text-anchor="middle" transform="translate(0.4 0) scale(1.2 1)">L3</text>
<text x="0" y="0" font-family='"Liberation Sans", sans-serif' font-size="7.6" font-weight="bold" fill="#fff" stroke="#fff" stroke-width="0.34" text-rendering="geometricPrecision" transform="matrix(0.93 0.56 0 1 -30.9 11.7)">SWITCH</text>
<text x="0" y="0" font-family='"Liberation Sans", sans-serif' font-size="7.6" font-weight="bold" font-style="italic" fill="#fff" stroke="#fff" stroke-width="0.34" text-rendering="geometricPrecision" transform="matrix(1 -0.558 0 1 4.6 26.6)" letter-spacing="0.7">1000M</text>
</g>
<g transform="translate(811.3 669.03) scale(1.24 1.27)" >
<path d="M-6.21 -16.31Q0 -19.95 6.21 -16.31L30.57 -2Q33.29 -0.4 33.29 2.75L33.29 10.65Q33.29 13.8 30.57 15.4L6.21 29.71Q0 33.35 -6.21 29.71L-30.57 15.4Q-33.29 13.8 -33.29 10.65L-33.29 2.75Q-33.29 -0.4 -30.57 -2Z" fill="url(#gSide)"/>
<path d="M-6.23 -16.34Q0 -19.95 6.23 -16.34L30.87 -2.03Q34.37 0 30.88 2.05L6.99 16.07Q0 20.17 -6.99 16.07L-30.88 2.05Q-34.37 0 -30.87 -2.03Z" fill="url(#gTop)"/>
<path d="M-30.2 0.7L-6.49 15.52Q0 19.58 6.49 15.52L30.2 0.7" fill="none" stroke="#8fd3e6" stroke-width="0.7" stroke-opacity="0.75" stroke-linecap="round"/>
<ellipse cx="0" cy="0" rx="9.9" ry="5.6" fill="none" stroke="#fff" stroke-width="1.1"/>
<path d="M-5.1 -11.6C-5.1 -8.2 -3.6 -6.6 0 -6.6C3.6 -6.6 5.1 -8.2 5.1 -11.6" fill="none" stroke="#fff" stroke-width="1.1" stroke-linecap="round" stroke-linejoin="round"/>
<path d="M-5.1 -14L-3 -11L-7.2 -11Z" fill="#fff"/>
<path d="M5.1 -14L7.2 -11L3 -11Z" fill="#fff"/>
<path d="M-5.1 11.6C-5.1 8.2 -3.6 6.6 0 6.6C3.6 6.6 5.1 8.2 5.1 11.6" fill="none" stroke="#fff" stroke-width="1.1" stroke-linecap="round" stroke-linejoin="round"/>
<path d="M-5.1 14L-7.2 11L-3 11Z" fill="#fff"/>
<path d="M5.1 14L3 11L7.2 11Z" fill="#fff"/>
<path d="M-21 -3.1H-15.5C-12.6 -3.1 -11.2 -1.6 -11.2 0.1C-11.2 1.9 -12.6 3.4 -15.5 3.4H-21" fill="none" stroke="#fff" stroke-width="1.1" stroke-linecap="round" stroke-linejoin="round"/>
<path d="M-23.6 -3.1L-20.6 -5.2L-20.6 -1Z" fill="#fff"/>
<path d="M-23.6 3.4L-20.6 1.3L-20.6 5.5Z" fill="#fff"/>
<path d="M21 -3.1H15.5C12.6 -3.1 11.2 -1.6 11.2 0.1C11.2 1.9 12.6 3.4 15.5 3.4H21" fill="none" stroke="#fff" stroke-width="1.1" stroke-linecap="round" stroke-linejoin="round"/>
<path d="M23.6 -3.1L20.6 -1L20.6 -5.2Z" fill="#fff"/>
<path d="M23.6 3.4L20.6 5.5L20.6 1.3Z" fill="#fff"/>
<text x="0" y="3.05" font-family='"Liberation Sans", sans-serif' font-size="8.6" font-weight="bold" fill="#fff" stroke="#fff" stroke-width="0.2" stroke-linejoin="round" text-anchor="middle" transform="translate(0.4 0) scale(1.2 1)">L2</text>
<text x="0" y="0" font-family='"Liberation Sans", sans-serif' font-size="7.6" font-weight="bold" fill="#fff" stroke="#fff" stroke-width="0.34" text-rendering="geometricPrecision" transform="matrix(0.93 0.56 0 1 -30.9 11.7)">SWITCH</text>
<text x="0" y="0" font-family='"Liberation Sans", sans-serif' font-size="7.6" font-weight="bold" font-style="italic" fill="#fff" stroke="#fff" stroke-width="0.34" text-rendering="geometricPrecision" transform="matrix(1 -0.558 0 1 4.6 26.6)" letter-spacing="0.7">1000M</text>
</g>
<g transform="translate(967.5 674.23) scale(1.24 1.27)" >
<path d="M-6.21 -16.31Q0 -19.95 6.21 -16.31L30.57 -2Q33.29 -0.4 33.29 2.75L33.29 10.65Q33.29 13.8 30.57 15.4L6.21 29.71Q0 33.35 -6.21 29.71L-30.57 15.4Q-33.29 13.8 -33.29 10.65L-33.29 2.75Q-33.29 -0.4 -30.57 -2Z" fill="url(#gSide)"/>
<path d="M-6.23 -16.34Q0 -19.95 6.23 -16.34L30.87 -2.03Q34.37 0 30.88 2.05L6.99 16.07Q0 20.17 -6.99 16.07L-30.88 2.05Q-34.37 0 -30.87 -2.03Z" fill="url(#gTop)"/>
<path d="M-30.2 0.7L-6.49 15.52Q0 19.58 6.49 15.52L30.2 0.7" fill="none" stroke="#8fd3e6" stroke-width="0.7" stroke-opacity="0.75" stroke-linecap="round"/>
<ellipse cx="0" cy="0" rx="9.9" ry="5.6" fill="none" stroke="#fff" stroke-width="1.1"/>
<path d="M-5.1 -11.6C-5.1 -8.2 -3.6 -6.6 0 -6.6C3.6 -6.6 5.1 -8.2 5.1 -11.6" fill="none" stroke="#fff" stroke-width="1.1" stroke-linecap="round" stroke-linejoin="round"/>
<path d="M-5.1 -14L-3 -11L-7.2 -11Z" fill="#fff"/>
<path d="M5.1 -14L7.2 -11L3 -11Z" fill="#fff"/>
<path d="M-5.1 11.6C-5.1 8.2 -3.6 6.6 0 6.6C3.6 6.6 5.1 8.2 5.1 11.6" fill="none" stroke="#fff" stroke-width="1.1" stroke-linecap="round" stroke-linejoin="round"/>
<path d="M-5.1 14L-7.2 11L-3 11Z" fill="#fff"/>
<path d="M5.1 14L3 11L7.2 11Z" fill="#fff"/>
<path d="M-21 -3.1H-15.5C-12.6 -3.1 -11.2 -1.6 -11.2 0.1C-11.2 1.9 -12.6 3.4 -15.5 3.4H-21" fill="none" stroke="#fff" stroke-width="1.1" stroke-linecap="round" stroke-linejoin="round"/>
<path d="M-23.6 -3.1L-20.6 -5.2L-20.6 -1Z" fill="#fff"/>
<path d="M-23.6 3.4L-20.6 1.3L-20.6 5.5Z" fill="#fff"/>
<path d="M21 -3.1H15.5C12.6 -3.1 11.2 -1.6 11.2 0.1C11.2 1.9 12.6 3.4 15.5 3.4H21" fill="none" stroke="#fff" stroke-width="1.1" stroke-linecap="round" stroke-linejoin="round"/>
<path d="M23.6 -3.1L20.6 -1L20.6 -5.2Z" fill="#fff"/>
<path d="M23.6 3.4L20.6 5.5L20.6 1.3Z" fill="#fff"/>
<text x="0" y="3.05" font-family='"Liberation Sans", sans-serif' font-size="8.6" font-weight="bold" fill="#fff" stroke="#fff" stroke-width="0.2" stroke-linejoin="round" text-anchor="middle" transform="translate(0.4 0) scale(1.2 1)">L2</text>
<text x="0" y="0" font-family='"Liberation Sans", sans-serif' font-size="7.6" font-weight="bold" fill="#fff" stroke="#fff" stroke-width="0.34" text-rendering="geometricPrecision" transform="matrix(0.93 0.56 0 1 -30.9 11.7)">SWITCH</text>
<text x="0" y="0" font-family='"Liberation Sans", sans-serif' font-size="7.6" font-weight="bold" font-style="italic" fill="#fff" stroke="#fff" stroke-width="0.34" text-rendering="geometricPrecision" transform="matrix(1 -0.558 0 1 4.6 26.6)" letter-spacing="0.7">1000M</text>
</g>
<g transform="translate(835.2 702.2) scale(1)" >
<path d="M59.4 13L72.9 0.2L72.9 40L59.4 40Z" fill="#c9c8b8" stroke="#a19d80" stroke-width="0.8" stroke-linejoin="round"/>
<path d="M20 13L59.4 13L72.9 0.2L33 0.2Z" fill="#edede7" stroke="#a19d80" stroke-width="0.8" stroke-linejoin="round"/>
<path d="M0 38.9L20 38.9L20 26.5L12.8 26.5Z" fill="#edede7" stroke="#a19d80" stroke-width="0.8" stroke-linejoin="round"/>
<path d="M59.4 28L80.2 28L93.1 15.1L72.9 15.1Z" fill="#edede7" stroke="#a19d80" stroke-width="0.8" stroke-linejoin="round"/>
<path d="M80.2 28L93.1 15.1L93.1 60.2L80.2 73.1Z" fill="url(#gBs)" stroke="#a19d80" stroke-width="0.8" stroke-linejoin="round"/>
<path d="M0 38.9L20 38.9L20 73.1L0 73.1Z" fill="url(#gBf)" stroke="#a19d80" stroke-width="0.8" stroke-linejoin="round"/>
<path d="M20 13L59.4 13L59.4 73.1L20 73.1Z" fill="url(#gBf)" stroke="#a19d80" stroke-width="0.8" stroke-linejoin="round"/>
<path d="M59.4 28L80.2 28L80.2 73.1L59.4 73.1Z" fill="url(#gBf)" stroke="#a19d80" stroke-width="0.8" stroke-linejoin="round"/>
<rect x="23.3" y="17.4" width="6.6" height="7.4" rx="1" fill="#efefe9" stroke="#a5a186" stroke-width="1"/>
<rect x="23.3" y="28.5" width="6.6" height="7.4" rx="1" fill="#efefe9" stroke="#a5a186" stroke-width="1"/>
<rect x="23.3" y="39.9" width="6.6" height="7.4" rx="1" fill="#efefe9" stroke="#a5a186" stroke-width="1"/>
<rect x="23.3" y="51.6" width="6.6" height="7.4" rx="1" fill="#efefe9" stroke="#a5a186" stroke-width="1"/>
<rect x="32.1" y="17.4" width="6.6" height="7.4" rx="1" fill="#efefe9" stroke="#a5a186" stroke-width="1"/>
<rect x="32.1" y="28.5" width="6.6" height="7.4" rx="1" fill="#efefe9" stroke="#a5a186" stroke-width="1"/>
<rect x="32.1" y="39.9" width="6.6" height="7.4" rx="1" fill="#efefe9" stroke="#a5a186" stroke-width="1"/>
<rect x="32.1" y="51.6" width="6.6" height="7.4" rx="1" fill="#efefe9" stroke="#a5a186" stroke-width="1"/>
<rect x="41.1" y="17.4" width="6.6" height="7.4" rx="1" fill="#efefe9" stroke="#a5a186" stroke-width="1"/>
<rect x="41.1" y="28.5" width="6.6" height="7.4" rx="1" fill="#efefe9" stroke="#a5a186" stroke-width="1"/>
<rect x="41.1" y="39.9" width="6.6" height="7.4" rx="1" fill="#efefe9" stroke="#a5a186" stroke-width="1"/>
<rect x="41.1" y="51.6" width="6.6" height="7.4" rx="1" fill="#efefe9" stroke="#a5a186" stroke-width="1"/>
<rect x="50.4" y="17.4" width="6.6" height="7.4" rx="1" fill="#efefe9" stroke="#a5a186" stroke-width="1"/>
<rect x="50.4" y="28.5" width="6.6" height="7.4" rx="1" fill="#efefe9" stroke="#a5a186" stroke-width="1"/>
<rect x="50.4" y="39.9" width="6.6" height="7.4" rx="1" fill="#efefe9" stroke="#a5a186" stroke-width="1"/>
<rect x="50.4" y="51.6" width="6.6" height="7.4" rx="1" fill="#efefe9" stroke="#a5a186" stroke-width="1"/>
<rect x="2.2" y="45.4" width="6.6" height="7.4" rx="1" fill="#efefe9" stroke="#a5a186" stroke-width="1"/>
<rect x="2.2" y="56.5" width="6.6" height="7.4" rx="1" fill="#efefe9" stroke="#a5a186" stroke-width="1"/>
<rect x="11.6" y="45.4" width="6.6" height="7.4" rx="1" fill="#efefe9" stroke="#a5a186" stroke-width="1"/>
<rect x="11.6" y="56.5" width="6.6" height="7.4" rx="1" fill="#efefe9" stroke="#a5a186" stroke-width="1"/>
<rect x="62.7" y="32.1" width="6" height="7.4" rx="1" fill="#efefe9" stroke="#a5a186" stroke-width="1"/>
<rect x="62.7" y="43.3" width="6" height="7.4" rx="1" fill="#efefe9" stroke="#a5a186" stroke-width="1"/>
<rect x="62.7" y="54.9" width="6" height="7.4" rx="1" fill="#efefe9" stroke="#a5a186" stroke-width="1"/>
<rect x="71.3" y="32.1" width="6" height="7.4" rx="1" fill="#efefe9" stroke="#a5a186" stroke-width="1"/>
<rect x="71.3" y="43.3" width="6" height="7.4" rx="1" fill="#efefe9" stroke="#a5a186" stroke-width="1"/>
<rect x="71.3" y="54.9" width="6" height="7.4" rx="1" fill="#efefe9" stroke="#a5a186" stroke-width="1"/>
</g>
<g transform="translate(805 735.9) scale(1)" >
<path d="M-5.75 -15.5Q0 -18.97 5.75 -15.5L28.32 -1.89Q30.84 -0.37 30.84 2.57L30.84 10.03Q30.84 12.97 28.32 14.49L5.75 28.1Q0 31.57 -5.75 28.1L-28.32 14.49Q-30.84 12.97 -30.84 10.03L-30.84 2.57Q-30.84 -0.37 -28.32 -1.89Z" fill="url(#gSide)"/>
<path d="M-5.77 -15.53Q0 -18.97 5.77 -15.53L28.59 -1.93Q31.84 0 28.6 1.95L6.48 15.28Q0 19.18 -6.48 15.28L-28.6 1.95Q-31.84 0 -28.59 -1.93Z" fill="url(#gTop)"/>
<path d="M-27.8 0.7L-6 14.73Q0 18.59 6 14.73L27.8 0.7" fill="none" stroke="#8fd3e6" stroke-width="0.7" stroke-opacity="0.75" stroke-linecap="round"/>
<path d="M-20 -2.2L-8.9 -8.4L2.7 -2.2L-8.4 4.6Z" fill="#fff"/>
<path d="M-7.9 0.2L-1.2 -3.4L0.7 -2.3L-6 1.4Z" fill="#2f8fba"/>
<path d="M6.07 -1.49A3.9 2.42 0 0 1 4.21 2.3" fill="none" stroke="#fff" stroke-width="1.2" stroke-linecap="round"/>
<path d="M9.07 -2.94A7.7 4.77 0 0 1 5.38 4.54" fill="none" stroke="#fff" stroke-width="1.35" stroke-linecap="round"/>
<path d="M12.14 -4.43A11.6 7.19 0 0 1 6.58 6.84" fill="none" stroke="#fff" stroke-width="1.5" stroke-linecap="round"/>
<text x="0" y="0" font-family='"Liberation Sans", sans-serif' font-size="6.2" font-weight="bold" fill="#fff" stroke="#fff" stroke-width="0.3" text-rendering="geometricPrecision" transform="matrix(1 0.573 0 1 -25.6 13.4)">WLAN</text>
</g>
<g transform="translate(947.4 723.2) scale(1)" >
<path d="M1.29 9.35Q0.4 8.9 1.28 8.42L13.87 1.54Q16.5 0.1 19.28 1.22L23.84 3.05Q25.7 3.8 25.7 5.8L25.7 9L14.2 9.8L8.2 12.8Z" fill="#2f95c4"/>
<path d="M0.4 8.9L8.2 12.8L8.2 35.6L0.4 31Z" fill="url(#gPcL)"/>
<path d="M8.2 12.8L14.4 9.6L14.4 32L8.2 35.6Z" fill="#3ba7ce"/>
<path d="M14.2 26L24 31.6L24 35L14.2 33Z" fill="#2f93c2"/>
<path d="M15.1 33.1Q15.1 32.6 15.55 32.37L20.55 29.83Q21 29.6 21.43 29.85L30.13 34.9Q31 35.4 31 36.4L31 36.4Q31 37.4 30.12 37.87L26.72 39.69Q25.4 40.4 24.09 39.66L15.54 34.85Q15.1 34.6 15.1 34.1Z" fill="#2a88b8"/>
<path d="M15.1 32.6L21 29.6L31 35.4L25.4 38.4Z" fill="#3aa5cb"/>
<circle cx="25.6" cy="34.9" r="0.8" fill="#1a5d86"/>
<path d="M14 5.3L15.8 4.5L39.1 16.6L39.1 38.4L35.2 40.4L35.2 18.8L14 6.4Z" fill="#1a5a86"/>
<path d="M35.2 18.8L39.1 16.8L39.1 38.4L35.2 40.4Z" fill="#1c628f"/>
<path d="M14 6.1L35.2 18.8L35.2 37.2L14 25.3Z" fill="#2e9bcb"/>
<path d="M15.5 8.3L34.3 19.6L34.3 34.2L15.5 23.7Z" fill="#b4b4b5"/>
</g>
<path d="M588.56 253.65Q579.88 248.69 588.41 243.46L633.67 215.72Q644.75 208.93 655.88 215.65L718.42 253.41Q726.98 258.58 718.42 263.74L674.92 289.99Q663.79 296.7 652.51 290.25Z" fill="#9e9e9e"/>
<path d="M589.48 253.52Q580.77 248.59 589.31 243.38L633.66 216.31Q644.75 209.54 655.89 216.24L717.52 253.33Q726.09 258.48 717.5 263.6L674.96 288.92Q663.79 295.57 652.48 289.17Z" fill="url(#gPlat)" stroke="#eeeeee" stroke-width="0.8"/>
<path d="M605.43 241.95L609.43 240.46L615.37 243.73L611.36 245.81Z" fill="#2f93c3"/>
<path d="M609.14 238.98L612.11 240.46L612.11 243.14L609.14 241.65Z" fill="#256f9e"/>
<path d="M604.68 227.85L606.47 227.11L618.04 233.93L618.04 245.21L616.26 245.81L604.68 239.28Z" fill="#174f7a"/>
<path d="M604.68 228L616.56 234.82L616.56 245.81L604.68 239.28Z" fill="#2379ab"/>
<path d="M606.02 230.22L615.52 235.71L615.52 243.88L606.02 238.39Z" fill="#c2c2c2"/>
<path d="M616.11 212.26L626.95 218.5L626.95 248.18L616.11 241.5Z" fill="url(#gSrvL)"/>
<path d="M626.95 218.5L650.7 204.4L650.7 234.53L626.95 248.18Z" fill="url(#gSrvR)"/>
<path d="M616.11 212.26L639.56 198.16L650.7 204.4L626.95 218.5Z" fill="url(#gSrvT)"/>
<line x1="617" y1="218.65" x2="626.21" y2="224.29" stroke="#1f6d9d" stroke-width="0.5" stroke-opacity="0.6"/>
<line x1="617" y1="220.43" x2="626.21" y2="226.07" stroke="#1f6d9d" stroke-width="0.5" stroke-opacity="0.6"/>
<line x1="617" y1="222.21" x2="626.21" y2="227.85" stroke="#1f6d9d" stroke-width="0.5" stroke-opacity="0.6"/>
<circle cx="622.2" cy="226.36" r="0.7" fill="#1b5c88"/>
<path d="M632.14 257.98L636.15 256.49L642.09 259.76L638.08 261.84Z" fill="#2f93c3"/>
<path d="M635.85 255.01L638.82 256.49L638.82 259.17L635.85 257.68Z" fill="#256f9e"/>
<path d="M631.4 243.88L633.18 243.14L644.76 249.96L644.76 261.24L642.98 261.84L631.4 255.31Z" fill="#174f7a"/>
<path d="M631.4 244.03L643.27 250.85L643.27 261.84L631.4 255.31Z" fill="#2379ab"/>
<path d="M632.74 246.25L642.24 251.74L642.24 259.91L632.74 254.42Z" fill="#c2c2c2"/>
<path d="M643.13 228.29L653.96 234.53L653.96 264.21L643.13 257.53Z" fill="url(#gSrvL)"/>
<path d="M653.96 234.53L677.71 220.43L677.71 250.56L653.96 264.21Z" fill="url(#gSrvR)"/>
<path d="M643.13 228.29L666.58 214.19L677.71 220.43L653.96 234.53Z" fill="url(#gSrvT)"/>
<line x1="644.02" y1="234.68" x2="653.22" y2="240.32" stroke="#1f6d9d" stroke-width="0.5" stroke-opacity="0.6"/>
<line x1="644.02" y1="236.46" x2="653.22" y2="242.1" stroke="#1f6d9d" stroke-width="0.5" stroke-opacity="0.6"/>
<line x1="644.02" y1="238.24" x2="653.22" y2="243.88" stroke="#1f6d9d" stroke-width="0.5" stroke-opacity="0.6"/>
<circle cx="649.21" cy="242.39" r="0.7" fill="#1b5c88"/>
<path d="M658.56 274.01L662.57 272.52L668.51 275.79L664.5 277.87Z" fill="#2f93c3"/>
<path d="M662.27 271.04L665.24 272.52L665.24 275.19L662.27 273.71Z" fill="#256f9e"/>
<path d="M657.82 259.91L659.6 259.17L671.18 265.99L671.18 277.27L669.4 277.87L657.82 271.34Z" fill="#174f7a"/>
<path d="M657.82 260.06L669.69 266.88L669.69 277.87L657.82 271.34Z" fill="#2379ab"/>
<path d="M659.16 262.28L668.65 267.77L668.65 275.94L659.16 270.45Z" fill="#c2c2c2"/>
<path d="M669.1 244.32L679.94 250.56L679.94 280.24L669.1 273.56Z" fill="url(#gSrvL)"/>
<path d="M679.94 250.56L703.68 236.46L703.68 266.59L679.94 280.24Z" fill="url(#gSrvR)"/>
<path d="M669.1 244.32L692.55 230.22L703.68 236.46L679.94 250.56Z" fill="url(#gSrvT)"/>
<line x1="669.99" y1="250.71" x2="679.19" y2="256.35" stroke="#1f6d9d" stroke-width="0.5" stroke-opacity="0.6"/>
<line x1="669.99" y1="252.49" x2="679.19" y2="258.13" stroke="#1f6d9d" stroke-width="0.5" stroke-opacity="0.6"/>
<line x1="669.99" y1="254.27" x2="679.19" y2="259.91" stroke="#1f6d9d" stroke-width="0.5" stroke-opacity="0.6"/>
<circle cx="675.19" cy="258.42" r="0.7" fill="#1b5c88"/>
<g transform="translate(123.4 228.6)" >
<ellipse cx="0" cy="0" rx="32.6" ry="15.3" fill="url(#gDisc)"/>
<ellipse cx="0.2" cy="-0.4" rx="9.8" ry="4.8" fill="#bfe6f0"/>
<ellipse cx="0.4" cy="0.2" rx="6.4" ry="3.0" fill="#8fd0e4"/>
<ellipse cx="0.4" cy="0.4" rx="3.6" ry="1.7" fill="#fff"/>
<ellipse cx="0.4" cy="-14.3" rx="19.8" ry="17.2" fill="#fff" fill-opacity="0.10" stroke="#b4b4b4" stroke-width="0.8"/>
<path d="M-14.0 -2.4A19.8 17.2 0 0 0 15.4 -3.0" fill="none" stroke="#ececec" stroke-width="1.2"/>
<ellipse cx="1.7" cy="-14.3" rx="10.8" ry="8.8" fill="url(#gGlobe)" fill-opacity="0.8"/>
<path d="M-5.6 -17.4C-3.4 -21.4 6.6 -21.6 9.4 -17.2C6.0 -15.0 -2.6 -15.2 -5.6 -17.4Z" fill="#fff" fill-opacity="0.6"/>
<path d="M-4.0 -12.4H8.0M-2.6 -10.0H6.6" stroke="#9fd0ea" stroke-width="0.5" fill="none" stroke-opacity="0.8"/>
<ellipse cx="1.4" cy="-7.4" rx="3.4" ry="0.8" fill="#d8eef7" fill-opacity="0.9"/>
<path d="M-11.0 -5.6C-13.6 -10.4 -2.4 -23.0 9.8 -23.6C12.6 -23.6 14.0 -21.6 13.2 -19.0C12.8 -20.8 11.6 -22.0 9.6 -22.0C0.0 -21.4 -11.4 -10.6 -9.2 -6.2C-8.4 -4.8 -5.8 -4.8 -3.6 -5.6C-6.4 -3.6 -9.8 -3.6 -11.0 -5.6Z" fill="url(#gSwoosh)"/>
<path d="M9.4 -28.0L13.2 -27.0L11.6 -29.6" fill="none" stroke="#c4c4c4" stroke-width="0.8"/>
</g>
<g transform="translate(124.4 324.8)" >
<path d="M-5.92 -15.89Q0 -19.39 5.92 -15.89L29.56 -1.92Q32.16 -0.38 32.16 2.63L32.16 10.67Q32.16 13.68 29.56 15.22L5.92 29.19Q0 32.69 -5.92 29.19L-29.56 15.22Q-32.16 13.68 -32.16 10.67L-32.16 2.63Q-32.16 -0.38 -29.56 -1.92Z" fill="url(#gSide)"/>
<path d="M-5.94 -15.92Q0 -19.39 5.94 -15.92L29.85 -1.95Q33.19 0 29.85 1.97L6.66 15.66Q0 19.6 -6.66 15.66L-29.85 1.97Q-33.19 0 -29.85 -1.95Z" fill="url(#gTop)"/>
<path d="M-29.1 0.7L-6.19 15.11Q0 19 6.19 15.11L29.1 0.7" fill="none" stroke="#8fd3e6" stroke-width="0.7" stroke-opacity="0.75" stroke-linecap="round"/>
<path d="M-25 0.2L-20 -0.4L-15.8 -5.0L-13.2 -0.8L-8.2 -11.0L-5.4 -8.0M12.6 -0.6L15.6 0.4L18.4 -0.4L20.4 -2.0L22.4 -0.6L24.4 -0.4" fill="none" stroke="#cfeaf3" stroke-width="0.7" stroke-linejoin="round"/>
<line x1="9.4" y1="8.4" x2="24.4" y2="21.4" stroke="#7d7d7d" stroke-width="3.2" stroke-linecap="round"/>
<line x1="9.0" y1="7.8" x2="21.0" y2="18.2" stroke="#c9c9c9" stroke-width="2.0" stroke-linecap="round"/>
<line x1="9.0" y1="7.4" x2="19.6" y2="16.6" stroke="#f4f4f4" stroke-width="0.9" stroke-linecap="round"/>
<line x1="21.8" y1="19.2" x2="24.8" y2="21.8" stroke="#555" stroke-width="3.6" stroke-linecap="butt"/>
<circle cx="-0.2" cy="-0.6" r="11.6" fill="url(#gLens)" stroke="#e8e8e8" stroke-width="0.6"/>
<path d="M-7.2 -9.6L3.6 -0.4L8.0 -0.6L10.6 -3.2" fill="none" stroke="#e4e4e4" stroke-width="0.6" stroke-linejoin="round"/>
<text x="0" y="0" font-family='"Liberation Sans", sans-serif' font-size="6.3" font-weight="bold" fill="#fff" stroke="#fff" stroke-width="0.25" text-rendering="geometricPrecision" transform="matrix(1 0.562 0 1 -29.4 11.2)" letter-spacing="0.1">NETLOG</text>
</g>
<g transform="translate(124 437.5)" >
<path d="M-6.29 -17.62Q0 -21.44 6.29 -17.62L31.94 -2.07Q34.7 -0.4 34.7 2.82L34.7 10.88Q34.7 14.1 31.94 15.77L6.29 31.32Q0 35.14 -6.29 31.32L-31.94 15.77Q-34.7 14.1 -34.7 10.88L-34.7 2.82Q-34.7 -0.4 -31.94 -2.07Z" fill="url(#gSide)"/>
<path d="M-6.31 -17.66Q0 -21.44 6.31 -17.66L32.24 -2.13Q35.79 0 32.25 2.14L7.08 17.38Q0 21.67 -7.08 17.38L-32.25 2.14Q-35.79 0 -32.24 -2.13Z" fill="url(#gTop)"/>
<path d="M-31.6 0.7L-6.57 16.83Q0 21.07 6.57 16.83L31.6 0.7" fill="none" stroke="#8fd3e6" stroke-width="0.7" stroke-opacity="0.75" stroke-linecap="round"/>
<text x="0" y="3.6" font-family='"Liberation Sans", sans-serif' font-size="8.8" font-weight="bold" fill="#fff" stroke="#fff" stroke-width="0.3" text-anchor="middle" transform="translate(0.2 -0.3) scale(1.18 1)">AC</text>
<path d="M-12.2 -3.8A2.6 3.4 0 0 0 -12.2 3" fill="none" stroke="#fff" stroke-width="1.5" stroke-linecap="round"/>
<path d="M-14.8 -5.8A3.6 5.4 0 0 0 -14.8 5" fill="none" stroke="#fff" stroke-width="1.5" stroke-linecap="round"/>
<path d="M-17.4 -7.8A4.6 7.4 0 0 0 -17.4 7" fill="none" stroke="#fff" stroke-width="1.5" stroke-linecap="round"/>
<path d="M12.2 -3.8A2.6 3.4 0 0 1 12.2 3" fill="none" stroke="#fff" stroke-width="1.5" stroke-linecap="round"/>
<path d="M14.8 -5.8A3.6 5.4 0 0 1 14.8 5" fill="none" stroke="#fff" stroke-width="1.5" stroke-linecap="round"/>
<path d="M17.4 -7.8A4.6 7.4 0 0 1 17.4 7" fill="none" stroke="#fff" stroke-width="1.5" stroke-linecap="round"/>
<path d="M-5.4 -11.4C-5.4 -7.6 -3.4 -5.9 0 -5.9C3.4 -5.9 5.4 -7.6 5.4 -11.4" fill="none" stroke="#fff" stroke-width="1" stroke-linecap="round" stroke-linejoin="round"/>
<path d="M-5.4 -14.4L-3.3 -11.4L-7.5 -11.4Z" fill="#fff"/>
<path d="M5.4 -14.4L7.5 -11.4L3.3 -11.4Z" fill="#fff"/>
<path d="M-5.4 11.0C-5.4 7.4 -3.4 5.7 0 5.7C3.4 5.7 5.4 7.4 5.4 11.0" fill="none" stroke="#fff" stroke-width="1" stroke-linecap="round" stroke-linejoin="round"/>
<path d="M-5.4 14L-7.5 11L-3.3 11Z" fill="#fff"/>
<path d="M5.4 14L3.3 11L7.5 11Z" fill="#fff"/>
<text x="0" y="0" font-family='"Liberation Sans", sans-serif' font-size="8" font-weight="bold" font-style="italic" fill="#fff" stroke="#fff" stroke-width="0.3" text-rendering="geometricPrecision" transform="matrix(1 -0.576 0 1 12.6 24.6)">L3</text>
</g>
<g transform="translate(392.8 396.4)" >
<clipPath id="cpCore"><path d="M-10.56 -20Q0 -25.71 10.56 -20L42.45 -2.76Q46.4 -0.62 46.4 3.88L46.4 85.72Q46.4 90.22 42.45 92.36L10.56 109.6Q0 115.31 -10.56 109.6L-42.45 92.36Q-46.4 90.22 -46.4 85.72L-46.4 3.88Q-46.4 -0.62 -42.45 -2.76Z"/></clipPath>
<path d="M-10.56 -20Q0 -25.71 10.56 -20L42.45 -2.76Q46.4 -0.62 46.4 3.88L46.4 85.72Q46.4 90.22 42.45 92.36L10.56 109.6Q0 115.31 -10.56 109.6L-42.45 92.36Q-46.4 90.22 -46.4 85.72L-46.4 3.88Q-46.4 -0.62 -42.45 -2.76Z" fill="url(#gCoreL)"/>
<rect x="-3.4" y="-25" width="51.4" height="141.6" fill="url(#gCoreR)" clip-path="url(#cpCore)"/>
<path d="M-10.59 -20.07Q0 -25.71 10.59 -20.07L42.56 -3.05Q48.3 0 42.58 3.1L12.31 19.5Q0 26.16 -12.31 19.5L-42.58 3.1Q-48.3 0 -42.56 -3.05Z" fill="url(#gCoreT)"/>
<path d="M-10.59 -17.77Q0 -23.41 10.59 -17.77L37.95 -3.19Q44.12 0.11 37.95 3.4L11.47 17.5Q0 23.62 -11.47 17.5L-37.95 3.4Q-44.12 0.11 -37.95 -3.19Z" fill="none" stroke="#9fd9ea" stroke-width="0.6" stroke-opacity="0.85"/>
<path d="M-44.2 9.91L-5.4 29.56L-5.4 106.26L-44.2 86.61Z" fill="#1f5f8d"/>
<path d="M-43.4 11.41L-6.2 30.26L-6.2 104.86L-43.4 86.01Z" fill="#2470a0"/>
<path d="M-42 14.12L-7.2 31.75L-7.2 47.75L-42 30.12Z" fill="url(#gBand)"/>
<path d="M-42 14.12L-7.2 31.75L-7.2 33.35L-42 15.72Z" fill="#5db4d4" opacity="0.6"/>
<path d="M-42 31.12L-7.2 48.75L-7.2 83.95L-42 66.32Z" fill="#17426a"/>
<path d="M-40.2 33.63L-39.5 33.99L-39.5 49.79L-40.2 49.43Z" fill="#b9c3cc"/>
<path d="M-39.3 34.09L-38.2 34.65L-38.2 50.45L-39.3 49.89Z" fill="#b18876"/>
<path d="M-40.2 51.03L-39.5 51.39L-39.5 65.99L-40.2 65.63Z" fill="#b9c3cc"/>
<path d="M-39.3 51.49L-38.2 52.05L-38.2 66.65L-39.3 66.09Z" fill="#b18876"/>
<path d="M-37 35.26L-36.3 35.61L-36.3 51.41L-37 51.06Z" fill="#b9c3cc"/>
<path d="M-36.1 35.71L-35 36.27L-35 52.07L-36.1 51.51Z" fill="#b18876"/>
<path d="M-37 52.66L-36.3 53.01L-36.3 67.61L-37 67.26Z" fill="#b9c3cc"/>
<path d="M-36.1 53.11L-35 53.67L-35 68.27L-36.1 67.71Z" fill="#b18876"/>
<path d="M-33.8 36.88L-33.1 37.23L-33.1 53.03L-33.8 52.68Z" fill="#b9c3cc"/>
<path d="M-32.9 37.33L-31.8 37.89L-31.8 53.69L-32.9 53.13Z" fill="#b18876"/>
<path d="M-33.8 54.28L-33.1 54.63L-33.1 69.23L-33.8 68.88Z" fill="#b9c3cc"/>
<path d="M-32.9 54.73L-31.8 55.29L-31.8 69.89L-32.9 69.33Z" fill="#b18876"/>
<path d="M-30.6 38.5L-29.9 38.85L-29.9 54.65L-30.6 54.3Z" fill="#b9c3cc"/>
<path d="M-29.7 38.95L-28.6 39.51L-28.6 55.31L-29.7 54.75Z" fill="#b18876"/>
<path d="M-30.6 55.9L-29.9 56.25L-29.9 70.85L-30.6 70.5Z" fill="#b9c3cc"/>
<path d="M-29.7 56.35L-28.6 56.91L-28.6 71.51L-29.7 70.95Z" fill="#b18876"/>
<path d="M-27 40.32L-26.4 40.63L-26.4 72.63L-27 72.32Z" fill="#8fb3cf"/>
<path d="M-24.8 41.04L-24.5 41.19L-24.5 73.99L-24.8 73.84Z" fill="#3f77a3"/>
<path d="M-23.8 43.94L-22.9 44.4L-22.9 45.3L-23.8 44.84Z" fill="#e4edf3"/>
<path d="M-23.8 46.24L-22.9 46.7L-22.9 47.6L-23.8 47.14Z" fill="#e4edf3"/>
<path d="M-23.8 48.54L-22.9 49L-22.9 49.9L-23.8 49.44Z" fill="#e4edf3"/>
<path d="M-23.8 50.84L-22.9 51.3L-22.9 52.2L-23.8 51.74Z" fill="#e4edf3"/>
<path d="M-23.8 53.14L-22.9 53.6L-22.9 54.5L-23.8 54.04Z" fill="#e4edf3"/>
<path d="M-23.8 55.44L-22.9 55.9L-22.9 56.8L-23.8 56.34Z" fill="#e4edf3"/>
<path d="M-23.8 57.74L-22.9 58.2L-22.9 59.1L-23.8 58.64Z" fill="#e4edf3"/>
<path d="M-23.8 60.04L-22.9 60.5L-22.9 61.4L-23.8 60.94Z" fill="#e4edf3"/>
<path d="M-23.8 62.34L-22.9 62.8L-22.9 63.7L-23.8 63.24Z" fill="#e4edf3"/>
<path d="M-23.8 64.64L-22.9 65.1L-22.9 66L-23.8 65.54Z" fill="#e4edf3"/>
<path d="M-23.8 66.94L-22.9 67.4L-22.9 68.3L-23.8 67.84Z" fill="#e4edf3"/>
<path d="M-23.8 69.24L-22.9 69.7L-22.9 70.6L-23.8 70.14Z" fill="#e4edf3"/>
<path d="M-21.6 42.66L-21.3 42.81L-21.3 75.61L-21.6 75.46Z" fill="#3f77a3"/>
<path d="M-20.6 47.56L-19.7 48.02L-19.7 48.92L-20.6 48.46Z" fill="#e4edf3"/>
<path d="M-20.6 49.86L-19.7 50.32L-19.7 51.22L-20.6 50.76Z" fill="#e4edf3"/>
<path d="M-20.6 52.16L-19.7 52.62L-19.7 53.52L-20.6 53.06Z" fill="#e4edf3"/>
<path d="M-20.6 54.46L-19.7 54.92L-19.7 55.82L-20.6 55.36Z" fill="#e4edf3"/>
<path d="M-20.6 56.76L-19.7 57.22L-19.7 58.12L-20.6 57.66Z" fill="#e4edf3"/>
<path d="M-20.6 59.06L-19.7 59.52L-19.7 60.42L-20.6 59.96Z" fill="#e4edf3"/>
<path d="M-20.6 61.36L-19.7 61.82L-19.7 62.72L-20.6 62.26Z" fill="#e4edf3"/>
<path d="M-20.6 63.66L-19.7 64.12L-19.7 65.02L-20.6 64.56Z" fill="#e4edf3"/>
<path d="M-20.6 65.96L-19.7 66.42L-19.7 67.32L-20.6 66.86Z" fill="#e4edf3"/>
<path d="M-20.6 68.26L-19.7 68.72L-19.7 69.62L-20.6 69.16Z" fill="#e4edf3"/>
<path d="M-18.4 44.28L-18.1 44.43L-18.1 77.23L-18.4 77.08Z" fill="#3f77a3"/>
<path d="M-17.4 47.19L-16.5 47.64L-16.5 48.54L-17.4 48.09Z" fill="#e4edf3"/>
<path d="M-17.4 49.49L-16.5 49.94L-16.5 50.84L-17.4 50.39Z" fill="#e4edf3"/>
<path d="M-17.4 51.79L-16.5 52.24L-16.5 53.14L-17.4 52.69Z" fill="#e4edf3"/>
<path d="M-17.4 54.09L-16.5 54.54L-16.5 55.44L-17.4 54.99Z" fill="#e4edf3"/>
<path d="M-17.4 56.39L-16.5 56.84L-16.5 57.74L-17.4 57.29Z" fill="#e4edf3"/>
<path d="M-17.4 58.69L-16.5 59.14L-16.5 60.04L-17.4 59.59Z" fill="#e4edf3"/>
<path d="M-17.4 60.99L-16.5 61.44L-16.5 62.34L-17.4 61.89Z" fill="#e4edf3"/>
<path d="M-17.4 63.29L-16.5 63.74L-16.5 64.64L-17.4 64.19Z" fill="#e4edf3"/>
<path d="M-17.4 65.59L-16.5 66.04L-16.5 66.94L-17.4 66.49Z" fill="#e4edf3"/>
<path d="M-17.4 67.89L-16.5 68.34L-16.5 69.24L-17.4 68.79Z" fill="#e4edf3"/>
<path d="M-17.4 70.19L-16.5 70.64L-16.5 71.54L-17.4 71.09Z" fill="#e4edf3"/>
<path d="M-17.4 72.49L-16.5 72.94L-16.5 73.84L-17.4 73.39Z" fill="#e4edf3"/>
<path d="M-15.2 45.9L-14.9 46.05L-14.9 78.85L-15.2 78.7Z" fill="#3f77a3"/>
<path d="M-14.2 50.81L-13.3 51.26L-13.3 52.16L-14.2 51.71Z" fill="#e4edf3"/>
<path d="M-14.2 53.11L-13.3 53.56L-13.3 54.46L-14.2 54.01Z" fill="#e4edf3"/>
<path d="M-14.2 55.41L-13.3 55.86L-13.3 56.76L-14.2 56.31Z" fill="#e4edf3"/>
<path d="M-14.2 57.71L-13.3 58.16L-13.3 59.06L-14.2 58.61Z" fill="#e4edf3"/>
<path d="M-14.2 60.01L-13.3 60.46L-13.3 61.36L-14.2 60.91Z" fill="#e4edf3"/>
<path d="M-14.2 62.31L-13.3 62.76L-13.3 63.66L-14.2 63.21Z" fill="#e4edf3"/>
<path d="M-14.2 64.61L-13.3 65.06L-13.3 65.96L-14.2 65.51Z" fill="#e4edf3"/>
<path d="M-14.2 66.91L-13.3 67.36L-13.3 68.26L-14.2 67.81Z" fill="#e4edf3"/>
<path d="M-14.2 69.21L-13.3 69.66L-13.3 70.56L-14.2 70.11Z" fill="#e4edf3"/>
<path d="M-14.2 71.51L-13.3 71.96L-13.3 72.86L-14.2 72.41Z" fill="#e4edf3"/>
<path d="M-12 47.52L-11.7 47.67L-11.7 80.47L-12 80.32Z" fill="#3f77a3"/>
<path d="M-11 50.43L-10.1 50.88L-10.1 51.78L-11 51.33Z" fill="#e4edf3"/>
<path d="M-11 52.73L-10.1 53.18L-10.1 54.08L-11 53.63Z" fill="#e4edf3"/>
<path d="M-11 55.03L-10.1 55.48L-10.1 56.38L-11 55.93Z" fill="#e4edf3"/>
<path d="M-11 57.33L-10.1 57.78L-10.1 58.68L-11 58.23Z" fill="#e4edf3"/>
<path d="M-11 59.63L-10.1 60.08L-10.1 60.98L-11 60.53Z" fill="#e4edf3"/>
<path d="M-11 61.93L-10.1 62.38L-10.1 63.28L-11 62.83Z" fill="#e4edf3"/>
<path d="M-11 64.23L-10.1 64.68L-10.1 65.58L-11 65.13Z" fill="#e4edf3"/>
<path d="M-11 66.53L-10.1 66.98L-10.1 67.88L-11 67.43Z" fill="#e4edf3"/>
<path d="M-11 68.83L-10.1 69.28L-10.1 70.18L-11 69.73Z" fill="#e4edf3"/>
<path d="M-11 71.13L-10.1 71.58L-10.1 72.48L-11 72.03Z" fill="#e4edf3"/>
<path d="M-11 73.43L-10.1 73.88L-10.1 74.78L-11 74.33Z" fill="#e4edf3"/>
<path d="M-11 75.73L-10.1 76.18L-10.1 77.08L-11 76.63Z" fill="#e4edf3"/>
<path d="M-42 67.72L-7.2 85.35L-7.2 94.75L-42 77.12Z" fill="#4a9cc6"/>
<path d="M-41.2 69.53L-8 86.35L-8 92.75L-41.2 75.93Z" fill="#9fd3e7"/>
<path d="M-40.4 71.13L-8.8 87.14L-8.8 89.54L-40.4 73.53Z" fill="#bfe4f1"/>
<path d="M-40.8 79.33L-34 82.78L-34 90.18L-40.8 86.73Z" fill="#1b4469"/>
<path d="M-39.8 81.14L-35 83.57L-35 85.47L-39.8 83.04Z" fill="#7d5b50"/>
<path d="M-39.8 84.04L-35 86.47L-35 88.37L-39.8 85.94Z" fill="#7d5b50"/>
<path d="M-32.3 83.64L-25.5 87.08L-25.5 94.48L-32.3 91.04Z" fill="#1b4469"/>
<path d="M-31.3 85.44L-26.5 87.87L-26.5 89.77L-31.3 87.34Z" fill="#7d5b50"/>
<path d="M-31.3 88.34L-26.5 90.77L-26.5 92.67L-31.3 90.24Z" fill="#7d5b50"/>
<path d="M-23.8 87.94L-17 91.39L-17 98.79L-23.8 95.34Z" fill="#1b4469"/>
<path d="M-22.8 89.75L-18 92.18L-18 94.08L-22.8 91.65Z" fill="#7d5b50"/>
<path d="M-22.8 92.65L-18 95.08L-18 96.98L-22.8 94.55Z" fill="#7d5b50"/>
<path d="M-15.3 92.25L-8.5 95.69L-8.5 103.09L-15.3 99.65Z" fill="#1b4469"/>
<path d="M-14.3 94.06L-9.5 96.49L-9.5 98.39L-14.3 95.96Z" fill="#7d5b50"/>
<path d="M-14.3 96.96L-9.5 99.39L-9.5 101.29L-14.3 98.86Z" fill="#7d5b50"/>
</g>
<g transform="translate(684.2 404.6)" >
<path d="M0 1.5Q0 0 1.3 0.74L29.7 16.9L29.7 72.8Q29.7 74.3 28.4 73.55L1.3 57.75Q0 57 0 55.5Z" fill="url(#gUtmF)"/>
<path d="M1.3 0.74Q0 0 1.43 -0.45L10.11 -3.16Q12.5 -3.9 14.74 -2.79L41.55 10.44Q42.9 11.1 41.53 11.7L29.7 16.9Z" fill="url(#gUtmT)"/>
<path d="M29.7 16.9L41.53 11.7Q42.9 11.1 42.9 12.6L42.9 66.8Q42.9 68.8 41.05 69.57L31.08 73.72Q29.7 74.3 29.7 72.8Z" fill="url(#gUtmS)"/>
<line x1="0.6" y1="2.54" x2="29.2" y2="18.82" stroke="#7cc6de" stroke-width="0.6" stroke-opacity="0.8"/>
<line x1="0.6" y1="11.94" x2="29.2" y2="28.22" stroke="#7cc6de" stroke-width="0.6" stroke-opacity="0.8"/>
<line x1="0.6" y1="20.94" x2="29.2" y2="37.22" stroke="#7cc6de" stroke-width="0.6" stroke-opacity="0.8"/>
<line x1="0.6" y1="30.34" x2="29.2" y2="46.62" stroke="#7cc6de" stroke-width="0.6" stroke-opacity="0.8"/>
<line x1="0.6" y1="39.94" x2="29.2" y2="56.22" stroke="#7cc6de" stroke-width="0.6" stroke-opacity="0.8"/>
<line x1="0.6" y1="49.34" x2="29.2" y2="65.62" stroke="#7cc6de" stroke-width="0.6" stroke-opacity="0.8"/>
<line x1="6.5" y1="5.9" x2="6.5" y2="15.3" stroke="#7cc6de" stroke-width="0.6" stroke-opacity="0.8"/>
<line x1="21.5" y1="23.83" x2="21.5" y2="32.83" stroke="#7cc6de" stroke-width="0.6" stroke-opacity="0.8"/>
<line x1="6.5" y1="24.3" x2="6.5" y2="33.7" stroke="#7cc6de" stroke-width="0.6" stroke-opacity="0.8"/>
<line x1="21.5" y1="42.23" x2="21.5" y2="51.83" stroke="#7cc6de" stroke-width="0.6" stroke-opacity="0.8"/>
<line x1="6.5" y1="43.3" x2="6.5" y2="52.7" stroke="#7cc6de" stroke-width="0.6" stroke-opacity="0.8"/>
<line x1="21.5" y1="61.23" x2="21.5" y2="69.23" stroke="#7cc6de" stroke-width="0.6" stroke-opacity="0.8"/>
<text font-family='"Liberation Sans", sans-serif' font-size="8.6" font-weight="bold" fill="#fff" stroke="#fff" stroke-width="0.3" text-anchor="middle" text-rendering="geometricPrecision" transform="matrix(1 -0.44 0 1 36.6 0)"><tspan x="0" y="33.0">U</tspan><tspan x="0" y="43.8">T</tspan><tspan x="0" y="55.6">M</tspan></text>
<path d="M3.6 56.6C1.6 53.6 5.4 50.6 9.2 48.4C10.6 49.6 10.2 52.0 11.2 53.0C13.4 52.4 13.6 50.0 13.4 48.0C17.6 51.0 20.0 56.2 20.2 60.0C21.4 58.8 21.6 57.4 22.4 56.6C24.4 60.6 24.6 66.4 22.8 70.2C19.6 75.0 12.6 74.0 8.0 68.6C5.2 65.4 2.8 60.6 3.6 56.6Z" fill="#e0201c"/>
<path d="M7.2 60.0C6.8 57.6 8.8 55.6 11.2 54.4C12.2 56.4 13.4 57.2 15.0 56.0C17.2 58.4 18.4 61.4 18.6 64.4C19.6 63.6 20.0 62.8 20.6 62.0C21.6 65.0 21.4 68.4 20.0 70.2C17.4 72.6 12.8 71.4 10.2 68.2C8.2 65.8 7.4 62.6 7.2 60.0Z" fill="url(#gFlame)"/>
</g>
<path d="M729.7 436.0L794.5 404.8L787.4 405.1L822 389.5L895.4 355.6L895.8 356.9L826.4 389.8L830.5 391.2L796 406.2L730.1 437.3Z" fill="#ff9900" stroke="#ff9900" stroke-width="0.4" stroke-linejoin="round"/>
<clipPath id="cpCloud"><path d="M898.2 347.5A14.95 14.95 0 0 1 897.5 320.3A16.38 16.38 0 0 1 922.9 302.7A30.76 30.76 0 0 1 974.8 304.0A17.42 17.42 0 0 1 1001.4 324.2A14.12 14.12 0 0 1 998.2 351.4A17.51 17.51 0 0 1 967.0 363.1A27.41 27.41 0 0 1 923.5 361.2A15.43 15.43 0 0 1 898.2 347.5Z"/></clipPath>
<path d="M898.2 347.5A14.95 14.95 0 0 1 897.5 320.3A16.38 16.38 0 0 1 922.9 302.7A30.76 30.76 0 0 1 974.8 304.0A17.42 17.42 0 0 1 1001.4 324.2A14.12 14.12 0 0 1 998.2 351.4A17.51 17.51 0 0 1 967.0 363.1A27.41 27.41 0 0 1 923.5 361.2A15.43 15.43 0 0 1 898.2 347.5Z" fill="#a3946f" transform="translate(1.6 1.8)" filter="url(#fCloudSh)" opacity="0.9"/>
<path d="M898.2 347.5A14.95 14.95 0 0 1 897.5 320.3A16.38 16.38 0 0 1 922.9 302.7A30.76 30.76 0 0 1 974.8 304.0A17.42 17.42 0 0 1 1001.4 324.2A14.12 14.12 0 0 1 998.2 351.4A17.51 17.51 0 0 1 967.0 363.1A27.41 27.41 0 0 1 923.5 361.2A15.43 15.43 0 0 1 898.2 347.5Z" fill="url(#gCloud)"/>
<g clip-path="url(#cpCloud)">
<path d="M898.2 347.5A14.95 14.95 0 0 1 897.5 320.3A16.38 16.38 0 0 1 922.9 302.7A30.76 30.76 0 0 1 974.8 304.0A17.42 17.42 0 0 1 1001.4 324.2A14.12 14.12 0 0 1 998.2 351.4A17.51 17.51 0 0 1 967.0 363.1A27.41 27.41 0 0 1 923.5 361.2A15.43 15.43 0 0 1 898.2 347.5Z" fill="none" stroke="#5d909f" stroke-width="5.5" filter="url(#fCloudIn)" opacity="0.95"/>
</g>
<path d="M898.2 347.5A14.95 14.95 0 0 1 897.5 320.3A16.38 16.38 0 0 1 922.9 302.7A30.76 30.76 0 0 1 974.8 304.0A17.42 17.42 0 0 1 1001.4 324.2A14.12 14.12 0 0 1 998.2 351.4A17.51 17.51 0 0 1 967.0 363.1A27.41 27.41 0 0 1 923.5 361.2A15.43 15.43 0 0 1 898.2 347.5Z" fill="none" stroke="#7ba6b3" stroke-width="0.7" opacity="0.8"/>
<text x="39.5" y="71.3" font-family='"Liberation Sans", "Noto Sans CJK SC", sans-serif' font-size="40" font-weight="bold" fill="#c00000" text-anchor="start" letter-spacing="0.25" stroke="#c00000" stroke-width="0.6" stroke-linejoin="round">佳木斯市妇幼保健院智慧医院建设与运维服务项目</text>
<text x="33" y="189" font-family='"Liberation Sans", "Noto Sans CJK SC", sans-serif' font-size="20" font-weight="bold" fill="#ff0000" text-anchor="start" stroke="#ff0000" stroke-width="0.7" stroke-linejoin="round" filter="url(#ts)">安全防护区</text>
<text x="302" y="180" font-family='"Liberation Sans", "Noto Sans CJK SC", sans-serif' font-size="20" font-weight="bold" fill="#ff0000" text-anchor="start" stroke="#ff0000" stroke-width="0.7" stroke-linejoin="round" filter="url(#ts)">数据中心区</text>
<text x="289" y="350" font-family='"Liberation Sans", "Noto Sans CJK SC", sans-serif' font-size="20" font-weight="bold" fill="#ff0000" text-anchor="start" stroke="#ff0000" stroke-width="0.7" stroke-linejoin="round" filter="url(#ts)">网络核心</text>
<text x="590" y="356" font-family='"Liberation Sans", "Noto Sans CJK SC", sans-serif' font-size="20" font-weight="bold" fill="#ff0000" text-anchor="start" stroke="#ff0000" stroke-width="0.7" stroke-linejoin="round" filter="url(#ts)">互联网出口</text>
<text x="909.5" y="339.5" font-family='"Liberation Sans", "Noto Sans CJK SC", sans-serif' font-size="19" font-weight="bold" fill="#ff0000" text-anchor="start" stroke="#ff0000" stroke-width="0.7" stroke-linejoin="round" filter="url(#tsi)">Internet</text>
<text transform="translate(48.2 590.8) scale(1 0.88)" font-family='"Liberation Sans", "Noto Sans CJK SC", sans-serif' font-size="15" font-weight="500" fill="#ff0000" text-anchor="start" stroke="#ff0000" stroke-width="0.4" filter="url(#ts15)">综合楼</text>
<text transform="translate(422.2 585.8) scale(1 0.88)" font-family='"Liberation Sans", "Noto Sans CJK SC", sans-serif' font-size="15" font-weight="500" fill="#ff0000" text-anchor="start" stroke="#ff0000" stroke-width="0.4" filter="url(#ts15)">住院楼</text>
<text transform="translate(784.2 584) scale(1 0.88)" font-family='"Liberation Sans", "Noto Sans CJK SC", sans-serif' font-size="15" font-weight="500" fill="#ff0000" text-anchor="start" stroke="#ff0000" stroke-width="0.4" filter="url(#ts15)">其他区域</text>
<text transform="translate(121.4 272.4) scale(1 0.93)" font-family='"Liberation Sans", "Noto Sans CJK SC", sans-serif' font-size="15" font-weight="bold" fill="#000" text-anchor="middle" stroke="#000" stroke-width="0.25" letter-spacing="0.1">数据库<tspan dx="2.2">/</tspan><tspan dx="1.4">日志审计</tspan></text>
<text transform="translate(126 383.4) scale(1 0.93)" font-family='"Liberation Sans", "Noto Sans CJK SC", sans-serif' font-size="15" font-weight="bold" fill="#000" text-anchor="middle" stroke="#000" stroke-width="0.25" >漏扫<tspan dx="2.2">/</tspan><tspan dx="1.4">其他安全系统</tspan></text>
<text transform="translate(122.7 491.3) scale(1.06 1)" font-family='"Liberation Sans", "Noto Sans CJK SC", sans-serif' font-size="15.1" font-weight="bold" fill="#000" text-anchor="middle" stroke="#000" stroke-width="0.3">DCWS-6028</text>
<text transform="translate(122.5 509.4) scale(1 0.93)" font-family='"Liberation Sans", "Noto Sans CJK SC", sans-serif' font-size="15" font-weight="bold" fill="#000" text-anchor="middle" stroke="#000" stroke-width="0.25" >无线控制器</text>
<text transform="translate(396.5 215.4) scale(1 0.93)" font-family='"Liberation Sans", "Noto Sans CJK SC", sans-serif' font-size="15" font-weight="bold" fill="#000" text-anchor="middle" stroke="#000" stroke-width="0.25" >服务器汇聚</text>
<text transform="translate(654 189.4) scale(1 0.93)" font-family='"Liberation Sans", "Noto Sans CJK SC", sans-serif' font-size="15" font-weight="bold" fill="#000" text-anchor="middle" stroke="#000" stroke-width="0.25" >超融合一体机</text>
<text transform="translate(463.4 347.3) scale(1.03 1)" font-family='"Liberation Sans", "Noto Sans CJK SC", sans-serif' font-size="15.1" font-weight="bold" fill="#000" text-anchor="middle" stroke="#000" stroke-width="0.3">DCRS-7604E</text>
<text transform="translate(462.5 365.4) scale(1 0.93)" font-family='"Liberation Sans", "Noto Sans CJK SC", sans-serif' font-size="15" font-weight="bold" fill="#000" text-anchor="middle" stroke="#000" stroke-width="0.25" >核心交换机</text>
<text x="181" y="628" font-family='"Liberation Sans", sans-serif' font-size="15.3" font-weight="normal" fill="#000" text-anchor="start" >CS6200-28F</text>
<text x="566" y="623" font-family='"Liberation Sans", sans-serif' font-size="15.3" font-weight="normal" fill="#000" text-anchor="start" >CS6200-28F</text>
<text x="931" y="625" font-family='"Liberation Sans", sans-serif' font-size="15.3" font-weight="normal" fill="#000" text-anchor="start" >CS6200-28F</text>
<text transform="translate(54 790) scale(1 0.9)" font-family='"Liberation Sans", "Noto Sans CJK SC", sans-serif' font-size="15" font-weight="bold" fill="#000" text-anchor="middle" stroke="#000" stroke-width="0.3" stroke-linejoin="round" filter="url(#tsk)">无线</text>
<text transform="translate(225 790) scale(1 0.9)" font-family='"Liberation Sans", "Noto Sans CJK SC", sans-serif' font-size="15" font-weight="bold" fill="#000" text-anchor="middle" stroke="#000" stroke-width="0.3" stroke-linejoin="round" filter="url(#tsk)">有线</text>
<text transform="translate(436.1 785) scale(1 0.9)" font-family='"Liberation Sans", "Noto Sans CJK SC", sans-serif' font-size="15" font-weight="bold" fill="#000" text-anchor="middle" stroke="#000" stroke-width="0.3" stroke-linejoin="round" filter="url(#tsk)">无线</text>
<text transform="translate(604.3 787.6) scale(1 0.9)" font-family='"Liberation Sans", "Noto Sans CJK SC", sans-serif' font-size="15" font-weight="bold" fill="#000" text-anchor="middle" stroke="#000" stroke-width="0.3" stroke-linejoin="round" filter="url(#tsk)">有线</text>
<text transform="translate(805.8 782.6) scale(1 0.9)" font-family='"Liberation Sans", "Noto Sans CJK SC", sans-serif' font-size="15" font-weight="bold" fill="#000" text-anchor="middle" stroke="#000" stroke-width="0.3" stroke-linejoin="round" filter="url(#tsk)">无线</text>
<text transform="translate(972 782.6) scale(1 0.9)" font-family='"Liberation Sans", "Noto Sans CJK SC", sans-serif' font-size="15" font-weight="bold" fill="#000" text-anchor="middle" stroke="#000" stroke-width="0.3" stroke-linejoin="round" filter="url(#tsk)">有线</text>
</g>
</svg>
</body>
</html>
